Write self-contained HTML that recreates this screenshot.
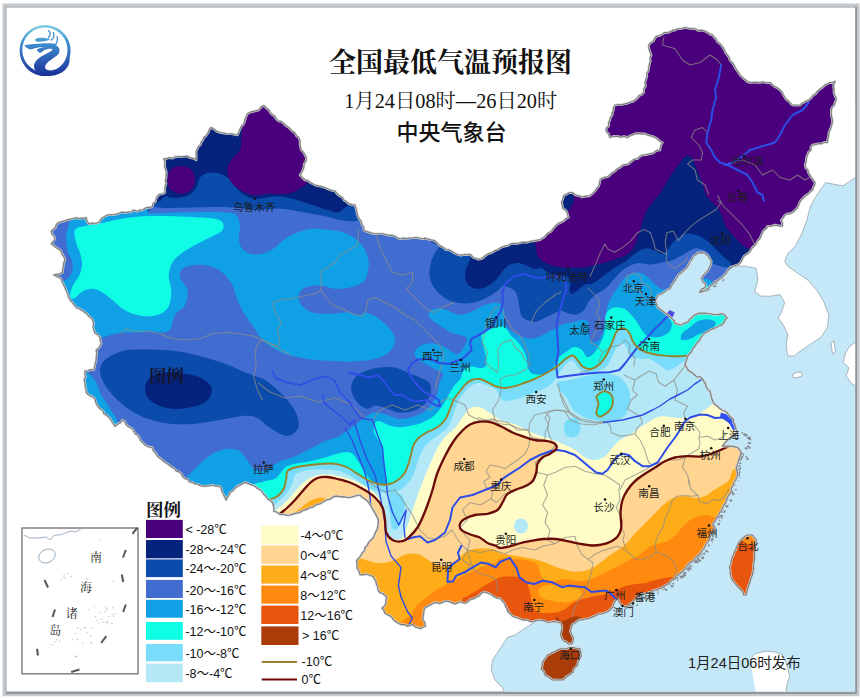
<!DOCTYPE html><html><head><meta charset="utf-8"><title>map</title>
<style>html,body{margin:0;padding:0;background:#fff}body{width:860px;height:698px;overflow:hidden;font-family:"Liberation Sans",sans-serif}svg{display:block}</style></head><body>
<svg width="860" height="698" viewBox="0 0 860 698">
<rect width="860" height="698" fill="#fff"/>
<path d="M2.5,3.5H859.5V696.2H2.5ZM5.5,6.5V694.2H857.2V6.5Z" fill="#c6cacd" fill-rule="evenodd"/>
<path d="M5.5,6.5H857.2V694.2H5.5ZM6.5,7.5V691.6H855.1V7.5Z" fill="#8f979d" fill-rule="evenodd"/>
<defs><clipPath id="frame"><rect x="6.5" y="7.5" width="848.6" height="684.1"/></clipPath>
<clipPath id="cn"><path d="M51.2,231.2 53.4,229.3 55.6,227.5 56.3,224.5 58.8,222.5 61.8,221.7 64.1,221 66.8,220.2 69.9,219.4 72.5,218.8 75.4,217.8 77.8,218.2 80.6,218.4 83.8,218.4 86.2,217.5 86.9,221 88.8,223.8 92.3,223 95.8,223.5 98.8,222.5 100.5,220 102.3,217.9 105,216.2 108.3,214.8 111.8,214.8 115,214.5 118.3,213.7 121.8,212.2 125,212.5 128.3,212.1 131,212 133.6,210.1 136.9,211.3 140,210 143,209.8 145,208.4 147.5,207.3 149.9,207.7 152.5,206.2 153.1,203.5 155.5,201.7 156.2,198.6 157.5,196.2 159.5,194.3 162.9,193.8 165,192.5 164.8,189.6 165.1,186.7 166.1,183.7 165.4,180.5 166.2,177.7 166.2,175 166.4,172.3 165.6,169.5 164.7,166.9 164.8,164.4 164.9,161.4 163.8,158.8 166.6,158.6 169.2,157.7 172.6,158.2 175,157 178,156.6 181.4,156.5 184.5,156.4 187.5,156.2 190.4,157.9 193.5,158.4 196.2,160 196.3,157.2 196.2,154.2 196.2,151.2 197.3,149 198.5,146.4 200.5,144.8 201.2,142.1 202.9,140.2 203.8,137.5 206.2,135.6 208.1,132.9 209.1,130 211.2,127.5 214.3,129.3 216.7,131.3 220,132.5 223,133 226,133.6 228.4,133.9 231.8,133.9 234.6,134.6 237.5,135 238.9,131.9 240.1,128.9 241.5,126.4 243.8,123.8 244.6,121.3 245.5,118.4 246.3,116.2 247.5,113.8 251,111.9 254.5,111.2 258.8,110 260.9,107 263.8,105.5 266.2,107.8 268.8,110 270.3,112.6 272.2,114.6 274.8,116.3 276.2,118.8 278.3,121 281,121.4 283.2,123 285,125 287.9,126.9 290.1,128.8 292.5,131.2 295.1,133 296.5,135.9 298.8,137.5 300,140.6 300,144 300.5,146.9 301.2,150 303.4,152.2 305,155 306.2,157.5 306.1,160.9 304.1,163.9 303.8,167.5 302.6,170.5 301.6,172.6 300,175 302.4,177.8 305,180 307.9,180.6 309.9,182.4 312.5,183.7 315,185 318.3,185.9 321.7,186.6 325,187.5 327.3,188.7 329.8,189.8 332.5,190.6 335,191.2 337,193.7 339.5,195.7 342.5,197.5 344,200.2 346.5,201.8 348.8,203.8 352.1,204.6 355,205 355.9,208.3 356.7,211.7 357.5,215 358.7,218.2 361.2,221.2 361.8,224.4 363.7,227.2 363.8,230 366.7,231.7 370,232.5 373.1,233.5 376.7,233.8 380,233.8 383.3,233.8 385.9,234.7 388.7,235.2 391.8,235.3 395,236.2 397.6,237.9 400,239 403.2,238 406.5,238.7 409.8,238 412.8,237.9 416.4,237.5 419.6,238 422.3,239 425.1,238.2 427.8,239 431,239.9 434.3,240.5 437,242.8 439.2,245.4 442.9,247.1 445.8,249.5 448.9,249.8 451.5,251 454,252.8 456.5,254 458.9,255 462,255.2 464.5,254.5 467.4,254.7 470.3,254.4 473.5,257.7 478.4,259.3 482.1,258.5 485,256 488.1,253.8 491.5,252.8 494.5,250.9 498,249.5 501.1,247.4 504.6,246.2 508.1,245.6 511,243.8 514,243.4 516.6,243.5 519.3,243 521.8,242.3 524.4,242.3 527.5,242.2 530.4,241.3 533.1,241.1 535.6,240.5 540,239.7 544,237.3 546.2,235 548.1,233 551,231.5 553.4,228.3 555.7,225.7 558.1,223.6 560.8,222.3 563.8,221 566,218.6 568.5,217.5 567.3,213 565.6,210.2 562.7,208.2 562.3,205.1 561.5,202.4 562.8,199.1 563.8,195.5 566.7,194.1 569.7,192.5 572.7,192.8 575.5,195 579.3,195.9 582.4,197.2 585.8,196.2 589.4,196 592.7,193.5 595.2,190.8 596.7,188.5 598.7,186.2 599.5,183.4 600,180 601.9,178.3 604.7,177.4 607.8,176.8 610,175 611.9,172.9 615.3,171 617,169 620,167.5 622.1,165.6 624.6,164.5 627.6,164.4 630,162.5 632.4,160.6 634.6,159.1 637.9,158.5 640,156.2 642.9,155 646.7,154.5 650,153.8 652.7,153.3 654.9,151.8 657.1,150.4 660,150 660.4,147.5 661.2,144.7 662.5,142.5 659.5,141.1 657.4,138.8 655,137.5 652.3,136.1 649.8,135.7 647.3,135 645,133.8 641.9,133.8 638.4,133.4 635,133.8 632.4,134.9 630,135.8 627.5,137.5 624.2,136.4 620.6,137.1 617.5,136.2 613.6,136.3 610,137.5 608.5,133.9 606.2,131.2 606.3,128.1 608.9,125.8 608.6,122.6 610,120 610.3,117.5 612.3,114.9 612.3,112.6 613.5,110.2 613.5,107.6 615,105 618.3,104.5 622,104.6 625,103.8 627.8,103.3 630.1,102.1 632.5,101.7 635,100 637.4,98 639,95.7 641.6,94.6 643.8,92.5 643.7,89 645.5,86.1 645,82.5 645.9,79.3 647,76.3 646.6,73.5 648.4,70.8 648.8,67.5 649.3,64.5 650.4,61.2 649.9,58 651.2,55 649.9,51.7 648.8,48.4 648.8,45 650.7,42.7 653.2,41.3 654.7,38.6 656.2,36.2 659.1,35.8 661.9,34.5 664.2,32.7 667.5,32.5 670.2,31.8 672.7,30.2 674.9,30.2 677.5,28.8 681.6,28.6 685,27.5 688.5,28.4 691.5,28.5 695,28.8 698,30.5 701.6,30.2 705,31.2 707.4,32.4 710,34.3 712.5,35 714.3,37.2 716.3,39.4 717.5,41.9 720,43.8 721.9,46.1 723.5,48.2 724.6,50.3 725.8,53.2 727.5,55 729.1,57.5 729.9,60.2 732.1,62.4 733.9,64.7 735,67.5 736.6,69.9 738.7,72.7 740.1,75.2 742.5,77.5 745,79.5 747.3,81.5 750,82.5 753.5,82.3 756.4,82.3 760,82.5 763.1,81.8 766.4,82.8 770,82.5 772.5,84.8 775.1,86.8 777.7,88 780,90 781.9,92 783.5,95 785,97.5 786.4,99.6 788.6,101.1 790.4,103.3 792.5,105 796.5,105.3 800,105 802.8,102.9 805.5,101.4 808.8,100 811,97.9 812.9,95.5 815.7,93.7 817.5,91.2 819.7,89.3 822.2,87.5 824.9,85.1 827.5,83.8 829.6,82.6 832.8,82.7 835,81.2 833.8,83.9 833.6,87 834,89.5 833.8,92.5 834.6,95 835.9,97.6 836.2,100 835,102.3 834.3,105.3 832.2,107.4 831.2,110 831.2,113.4 831.6,116.8 832.5,120 832.1,123.7 831.2,126.9 830,130 828.7,133.3 828.6,136 827.7,139.6 827.5,142.5 824.2,142.2 821.5,143.7 818.2,143.6 815.3,144.5 812.5,145 810.9,147.1 810.8,150.6 808.4,152.3 807.5,155 806.3,157.9 806.2,161.6 805,165 805.8,167.8 808,170.1 808.2,172.4 810,175 811.4,177.5 813.4,180.3 815,182.5 814.6,185 813.4,187.3 812.5,190 810.1,192 807.5,194.5 805.1,196 803.4,197.8 801.2,200 799.7,202.4 798.7,205 797.5,207.5 795.1,210.3 792.5,212.5 790.1,213.6 787.6,213.8 785,215 783.1,217.9 781.2,220 782.4,223.1 782.5,226.2 778.7,225.8 775,225 771.3,226.1 767.5,226.2 766.2,228.6 763.9,230.3 762.5,232.5 761.2,235.6 759.9,238.4 757.5,241.2 756.3,243.7 754.6,245.7 752.5,247.5 751,249.6 749.7,251.9 747.5,253.8 744.4,255.7 742.5,258.8 741.5,261.3 739.5,263.6 737.5,265 735.2,265.6 732.2,266.7 730,267.5 731.6,267.3 728,270.2 725.8,273.7 722.3,277.2 720,278.7 717.7,280.7 714.7,281.6 713,284.2 710.3,285.8 708.4,288.3 706.2,290 703.7,291.2 699.7,292.3 701.4,289.4 704.9,287.7 706,284.2 703,281.9 701.4,278.4 703.7,274.9 707.2,271.4 708.6,269.3 710,266.7 710.9,264.1 711.3,261 709.4,258.5 708.4,256.3 706.3,254.5 703.7,252.8 700.6,252.7 697.9,252.8 696.1,254.7 693.3,256.3 692,259.2 689.8,262 688.8,264.5 687.4,266.7 685.2,269.4 682.8,271.4 680.6,273.2 678.3,274.7 677,277.2 675.5,279.8 673.9,281.8 672.3,284.2 670,288.8 667.5,289.7 665,291.5 661.9,293.6 658.6,294.8 656.3,297.9 655.4,301.3 656.3,303.6 657,306.3 659.1,308.4 662,310.4 664.5,312.7 666.8,314.5 668.4,315.3 671.7,318.6 674.2,320.6 675,323.5 678.3,324.3 681.5,325 684.6,323.1 688,322 689.3,319.5 691.5,318.2 693,316 696.3,314.2 699.5,313 702.2,313.6 704.7,313.1 707.6,313.7 710.2,313.8 713.3,314.5 715.8,314.5 718.3,314.6 721.3,313.7 724,314.5 727.3,317.8 725.1,319.8 724,322.7 721.7,324.9 719,326 716.5,327.3 714.2,328.4 710.5,329.6 707.6,331.7 704.7,333 702.7,335 700.8,337.6 699.5,340.7 696.9,342.7 695.4,345.6 692.9,348.5 691.3,352 688,355.4 686.4,360.3 684.8,365.2 686.8,367.3 688,370 690.4,371.7 692.6,373 694.6,375 696.9,376.9 700,376.9 702.7,379 703.9,381.6 705.5,383.5 706,386.4 707.4,389.1 710,391.3 710.9,394.6 711.5,397.9 712.9,401.2 714.2,404 717.5,406.2 719.5,408.3 722,410 725,411.2 727.4,413 729.1,415.7 731.2,417.5 733.4,419.5 733.4,422.7 735,425 735.5,427.6 736.3,430.2 737.5,432.5 735.5,433.8 733,436 731.2,437.5 729.1,438.6 727,440.6 725,442.5 722.5,446.2 726.5,446 730,446.2 734,446.6 737.5,447.5 739.6,449.7 741.2,452.5 740.4,455.2 739.6,457.5 738.8,460 737.9,462.7 737.3,465.2 736.2,467.5 737,471 737.5,475 736.8,477.4 735.3,480.5 733.8,482.5 733.5,485.2 731.6,487.4 731.2,490 730.8,493 728.8,495 727.5,497.5 726.2,499.9 725.9,503.1 723.8,505 722.7,507.6 721.7,510 720,512.5 718.2,515.8 716.2,518.8 714.7,521.7 712.5,524.5 715,527.5 714.5,530.5 712,532.3 711.2,535 710,537.2 709,540.1 707.5,542.5 705.3,545.5 703.8,548.8 702,550.7 700.7,553.1 698.8,555 696,557.1 693.8,560 691.9,561.9 689.6,562.9 687.5,565 686,567 684.7,569.4 682.5,571.2 680.6,573 678.6,574.7 676.2,576.2 674.7,579.1 671.6,580.3 670,582.5 667,584.6 663.8,586.2 661.6,588.2 658.9,588.7 656.2,590 653.6,590.3 651.4,592.1 648.8,592.5 645,593.8 642.2,594 640,595.4 637.3,596.6 635.6,598.6 633.5,601.4 630.7,603.5 628.7,605.6 625.8,606.8 621,605 619.3,602.1 617.6,598.6 614.4,602 612.7,606.8 610.6,609.2 607.8,611.7 604.3,612.9 601.3,614 598.4,614 595.7,615.7 593,616.6 590.4,617.9 588,618.7 585,619 582.1,620 579.2,619.8 576.8,621.5 574.8,623.1 572,624.8 571.2,628.2 570.3,631.3 571.7,634.7 573.5,637.8 573.1,640.9 572,644 568.6,644 566.2,641.9 563.7,641 561.7,638.1 560.5,634.6 561.2,631.3 562,628 561.8,625.3 560.5,623 557.4,622 554,621.5 550.5,622 547.4,622.3 544.7,620.9 542,620.4 539.2,620 536.1,620.6 532.7,621.5 530.1,621.6 527.5,620 523.4,620.1 520,618.8 517.5,618 514.8,617 512.5,616.2 510.2,613.7 507.5,611.2 507.2,608.8 505.4,606.3 505,603.8 502.4,601.2 500,598.4 497.1,598.1 494,596.8 491.8,594.8 489,593.5 484.2,591.9 481,593.5 479.3,596 476.7,596.8 474.4,598.4 469.5,600 467.3,602.3 464.6,603.3 459.7,601.7 457.2,603.1 454.8,604 452.4,602.9 449.9,601.7 445,600.9 442.4,602.6 440,603.3 435.2,602.5 432.5,603.5 430.3,605 427.8,606.3 425.4,607.4 424,610 423.7,613 423,616.6 423,619.7 424.8,622.6 425.4,626.2 422.7,627.2 420.5,628.7 415.6,627 412.3,624.6 407.4,626.2 404.4,624.5 400.8,624.6 397.6,622.8 395,621.3 392.9,619 391,616.4 387.3,614.8 384.5,613 384.1,610.5 382,608.2 384.6,605.9 386,603.3 385.9,599.7 387,596.8 384.8,595.5 382.9,593.5 379.9,592.7 378,590.3 377.8,587 376.3,583.7 375.8,580.9 374.1,578.5 373,576.4 369.6,575.3 366.5,574 363.2,574.9 360,574.7 359.1,571.3 357,568 357.2,564.4 356.5,561 358,558.9 360,556.8 362.5,552.7 364.8,550.4 365,547.5 367.4,545.3 368.6,542.5 370.6,540.3 373,538 374.3,535.5 375.5,532.2 377,530 377.8,526.8 378.2,523.4 378.5,520 377.3,517.4 376.1,515.1 375,513 372.5,508.8 371,506 369.4,503.6 367.5,501.2 365.1,499.2 362.2,497.3 360,495 356.7,495.5 353.4,496.6 350,497.5 347.1,497.5 343.6,496.6 340.4,496.8 337.5,496.2 334.6,496.4 332.5,497.3 330,499.3 327.5,499.5 324.9,501 322.3,502.5 320,503.8 317.4,504.4 315.1,505.3 312.7,507.3 310,507.5 307.7,508.9 305,509.9 302.3,510.8 300,512.5 296.4,513.1 293,514.1 290,515 286.6,515.3 283.5,514.3 280,514.5 277.2,512.3 273.8,511.2 274,508.3 273.4,505.5 272.5,502.5 270.2,500.6 267.5,498.8 266,496.4 264.4,494.8 262.5,492.5 260.5,489.8 257.7,488.7 255,486.2 252.5,485.1 250.1,484.4 247.8,483.2 245,482.5 242.5,483.8 239.7,485.2 237.5,486.2 235.2,488.2 233.1,490.6 230,492.5 229.2,495 227.3,497.6 226.2,500 224.9,497.4 223.8,495 222.4,492.3 221.5,490.3 221.2,487.5 218.4,485.9 215.4,486.1 212.5,485 209.2,485.8 206.1,486.1 202.5,486.2 200.1,485.4 197.6,484.1 195,484 192.5,482.5 189.5,481.8 187.8,479.3 184.5,478.4 182.5,476.2 181.3,473.7 179.3,471.9 176.4,471.1 175,468.8 172.3,467.5 169.9,465.7 167.5,463.8 164.7,462 162.6,460.4 160.1,458.2 157.5,456.2 155.8,453.1 153.3,450.7 152.5,447.5 149.9,447.3 147.3,446.2 145,445 143,442.8 140.5,440.6 139.3,437.6 137.5,435 135.4,433.9 133.7,431 132.3,428.8 130,427.5 127.6,425.9 125.9,424.3 124.8,421.6 122.5,420 120.6,422.7 117.7,424 115,426.2 112.5,422.5 110.8,419.8 108.9,417.3 106.2,415 103.8,413.7 103,410.5 100.4,409.3 98.8,407.5 97.2,405.1 95.9,402.9 95.3,400.2 93.8,397.5 91.1,396.2 88.6,394.7 86.2,392.5 86,389.3 85.1,385.7 85,382.5 84.1,379.9 85.6,376.8 84.8,374 85,371.2 88.1,370.6 90.8,369.6 93.8,370 94.7,366.6 95.2,363.3 96.2,360 96.3,356.7 96.8,353.5 96.2,350 98.4,348.4 100,346 101.2,343.8 100.3,340.4 100,337.5 98,334.7 95,333.1 93.8,330 93.1,326.8 93.7,323.1 92.5,320 91,317.7 88.8,316.3 87.1,314 85,312.5 82.2,310.5 79.2,308.7 76.2,307.5 74.4,305.2 72.5,302.6 70.1,300 68.8,297.5 68,295.2 67.3,292.7 65.9,290 65,287.5 63.7,284.7 62.2,281.9 61.2,278.8 58.9,277.3 56.1,275.9 53.8,275 56.7,274.3 59.9,273.9 62.5,272.5 62.7,269.5 63.4,266.3 63.7,263.1 65,260 64.2,257.2 62.2,254.3 61.2,251.2 58.7,249.1 56.3,247.7 53.8,245.6 51.2,243.8 53.2,241.3 55,238.8 53.9,235.9 51.9,234.1Z"/><path d="M747.5,535 752.5,535 754.3,537.5 756.2,540 756.2,543.3 755.8,546.4 755,550 754.5,552.9 754.7,556 754.5,559.7 753.8,562.5 753.3,565.9 753.8,568.7 752.9,571.8 752.5,575 751.1,577.4 750.4,580 749.9,582.5 748.8,585 747.7,588.2 747,591.5 746.2,595 743.8,595 742.9,592.2 741.2,590 738.8,587.7 736.2,585 734.6,582.7 732.5,580.4 731.2,577.5 730.3,573.9 730.4,570.8 729.5,567.5 730.6,564.4 731.3,560.8 732,557.5 733.6,555.1 734,552.7 735.6,550.3 736.2,547.5 737.6,545 739.1,542 741.2,540 742.8,538.2 745,536.3Z"/><path d="M542.5,662.5 544.1,659.8 545.8,657.7 547.5,655 549.9,654.1 552.3,652.5 555.1,651.6 557.5,650 560.4,648.8 564,648.8 566.9,648.5 570,647.5 573.3,647.6 576.6,648.3 580,648.8 580.7,652.3 581.2,656.2 579.5,659.2 578.1,661.8 577.5,665 575.6,667.2 573.8,669.2 573.1,672.1 571.2,673.8 568.9,675.3 566.5,676.6 564.9,678.4 562.5,680 559.2,679.9 555.6,680 552.5,680 550,678 547.3,676.4 545,675 543.8,671.4 541.2,668.8 542.3,665.5Z"/></clipPath></defs>
<g clip-path="url(#frame)">
<path d="M620,240 856,160 858,695 505,695 505,694.5 502.5,687.5 495,680 491.2,670 492.5,660 497.5,652.5 502.5,645 507.5,637.5 515,635 522.5,630 530,625 536,621 560,600 650,560 660,400 650,300Z" fill="#c4e8f8"/>
<path d="M731,266.2 745.2,266.2 756.3,268.4 757.9,280.4 754.7,291.5 761,296.2 770.5,296.2 780,294.6 784.7,302.5 781.5,312 778.4,318.3 783.1,324.6 787.8,334 786.2,345 787.8,356 794.1,356 802,349.8 811.5,343.5 821,337.2 827.3,327.7 828.8,315 824.1,302.5 817.8,291.5 808.3,280.4 798.9,274 787.8,266.2 784.7,261.5 787.8,253.6 795.7,245.7 802,233 806.8,220.5 809.9,207.9 814.7,198.4 821,188.9 825.7,182.6 833.6,184.2 843,185.8 852.5,179.5 857.2,176.3 860,174.7 860,100 700,100 700,250Z" fill="#fff"/>
<path d="M750,660 755,653.8 765,651.2 775,652 782,654.5 785.8,662.2 788.4,671 789.6,676.3 787,684 785.8,693 756,693 752.5,674.5Z" fill="#fff"/>
<path d="M846,352 850,346 856,342 860,342 860,388 852,384 846,376 849,368 843,362Z" fill="#fff"/>
<path d="M831,343 834,341 835.5,352 832.5,354Z" fill="#fff"/>
<ellipse cx="797.3" cy="375" rx="5" ry="2.6" fill="#fff" transform="rotate(-12 797.3 375)"/>
<g fill="none" stroke="#8f99a3" stroke-width="0.7" stroke-linejoin="round">
<path d="M731,266.2 745.2,266.2 756.3,268.4 757.9,280.4 754.7,291.5 761,296.2 770.5,296.2 780,294.6 784.7,302.5 781.5,312 778.4,318.3 783.1,324.6 787.8,334 786.2,345 787.8,356 794.1,356 802,349.8 811.5,343.5 821,337.2 827.3,327.7 828.8,315 824.1,302.5 817.8,291.5 808.3,280.4 798.9,274 787.8,266.2 784.7,261.5 787.8,253.6 795.7,245.7 802,233 806.8,220.5 809.9,207.9 814.7,198.4 821,188.9 825.7,182.6 833.6,184.2 843,185.8 852.5,179.5 857.2,176.3 860,174.7"/>
<path d="M536.2,621.2 530,625 522.5,630 515,635 507.5,637.5 502.5,645 497.5,652.5 492.5,660 491.2,670 495,680 502.5,687.5 505,694.5"/>
<path d="M750,660 755,653.8 765,651.2 775,652 782,654.5 785.8,662.2 788.4,671 789.6,676.3 787,684 785.8,693"/>
<path d="M846,352 850,346 856,342 860,342M860,388 852,384 846,376 849,368 843,362 846,352M831,343 834,341 835.5,352 832.5,354Z"/>
<ellipse cx="797.3" cy="375" rx="5" ry="2.6" transform="rotate(-12 797.3 375)"/>
</g>
<g clip-path="url(#cn)">
<rect x="40" y="15" width="810" height="680" fill="#416cd0"/>
<path d="M153.8,207C157.9,207.2 159,207.9 165,208C171,208.1 181.7,207.7 190,207.5C198.3,207.3 206.7,206.9 215,207C223.3,207.1 233.3,207.5 240,208C246.7,208.5 248.3,209.9 255,210C261.7,210.1 271.7,208.3 280,208.8C288.3,209.2 297.5,211.2 305,212.5C312.5,213.8 319.2,215 325,216.2C330.8,217.5 335,219.2 340,220C345,220.8 351.3,221.6 355,221.2C358.7,220.9 359.2,219.9 362,218C364.8,216.1 370.3,231.3 372,210C373.7,188.7 410.7,110 372,90C333.3,70 178.7,70.5 140,90C101.3,109.5 137.7,187.5 140,207C142.3,226.5 149.6,206.8 153.8,207Z" fill="#0a4bab"/>
<path d="M438.4,247C437.6,250.5 436.2,250.2 435,252.8C433.8,255.4 431.9,259.1 431,262.6C430.1,266.1 429.2,270.5 429.4,274C429.5,277.5 430.5,280.8 431.9,283.8C433.3,286.8 435.3,289.6 437.6,292C439.9,294.4 442.8,296.7 445.8,298.5C448.8,300.3 452.1,301.8 455.6,302.6C459.1,303.4 463.5,303.5 467,303.4C470.5,303.3 473.5,302.8 476.8,301.8C480.1,300.9 483.6,299.2 486.6,297.7C489.6,296.2 492.6,294.3 494.8,292.8C497,291.3 498.3,289.9 499.7,288.7C501.1,287.5 501.6,285.8 503,285.5C504.4,285.2 505.9,286.2 507.8,287C509.7,287.8 512.8,288.8 514.4,290.4C516,292 516.8,294.2 517.6,296.9C518.4,299.6 518.6,303.4 519.3,306.7C520,310 520.3,314.3 521.7,316.5C523.1,318.7 525.5,319.1 527.7,320C529.9,320.9 532.2,322.3 535,322C537.8,321.7 541.3,319.4 544.4,318C547.5,316.6 550.9,314.7 553.7,313.5C556.5,312.3 558.5,310.7 561,310.7C563.5,310.7 566.1,312.9 568.6,313.5C571.1,314.1 573.5,314.9 576,314.4C578.5,313.9 581.3,312.9 583.5,310.7C585.7,308.5 586.8,303.8 589,301C591.2,298.2 593.7,296.2 596.5,294C599.3,291.8 603,290.6 606,288C609,285.4 611.7,281.3 614.5,278.4C617.3,275.4 620,272.5 622.7,270.3C625.4,268.1 628.1,266.6 630.8,265.4C633.5,264.2 636,263.1 639,263C642,262.9 645.8,264.4 648.8,264.5C651.8,264.6 654.5,264.1 657,263.7C659.5,263.3 661,262.5 663.5,262C666,261.5 668.7,261.6 671.7,260.5C674.7,259.4 678.5,257.2 681.5,255.6C684.5,254 687.2,251.9 689.7,250.7C692.2,249.5 694,248.3 696.2,248.2C698.4,248 700.8,249.1 702.7,249.8C704.6,250.5 706.2,251.1 707.6,252.3C709,253.5 710.3,255.5 710.9,257.2C711.5,258.9 710.1,261.2 711,262.5C711.9,263.8 714.6,264.3 716.5,265C718.4,265.7 720.4,266.3 722.3,266.7C724.2,267.1 726,267.2 728,267.3C730,267.4 727,267.9 734,267C741,266.1 750.7,273.2 770,262C789.3,250.8 836.7,241.2 850,200C863.3,158.8 898.3,45.8 850,15C801.7,-15.8 608.3,-12.5 560,15C511.7,42.5 580,143.8 560,180C540,216.2 460.3,220.8 440,232C419.7,243.2 439.2,243.5 438.4,247Z" fill="#0a4bab"/>
<path d="M100,372.5C99.6,368.8 100.4,365.4 102.5,362.5C104.6,359.6 108.3,357.1 112.5,355C116.7,352.9 122.1,350.9 127.5,350C132.9,349.1 138.8,349.5 145,349.5C151.2,349.5 158.3,349.5 165,350C171.7,350.5 178.3,351.2 185,352.5C191.7,353.8 198.3,355.6 205,357.5C211.7,359.4 218.8,361.5 225,363.8C231.2,366 237.5,369.2 242.5,371.2C247.5,373.3 251.2,374.5 255,376C258.8,377.5 261.2,377.7 265,380C268.8,382.3 273.8,386.7 277.5,390C281.2,393.3 284.6,396.5 287.5,400C290.4,403.5 293.1,407.2 295,411C296.9,414.8 298.5,419.2 298.8,422.5C299,425.8 298.1,428.8 296.2,431C294.4,433.2 290.6,435.8 287.5,436C284.4,436.2 280.8,434.2 277.5,432.5C274.2,430.8 271.2,428.6 267.5,426C263.8,423.4 259.6,418.6 255,417C250.4,415.4 245.8,415.8 240,416.2C234.2,416.8 227.5,418.8 220,420C212.5,421.2 203.3,423.1 195,423.8C186.7,424.4 177.9,424.6 170,423.8C162.1,422.9 154.2,421 147.5,418.8C140.8,416.5 135.4,413.5 130,410C124.6,406.5 119.2,401.7 115,397.5C110.8,393.3 107.5,389.2 105,385C102.5,380.8 100.4,376.2 100,372.5Z" fill="#0a4bab"/>
<path d="M351.2,387.5C351.5,384.2 352.7,380.2 355,377.5C357.3,374.8 360.8,372.9 365,371.2C369.2,369.6 375,368.1 380,367.5C385,366.9 390.4,366.7 395,367.5C399.6,368.3 403.3,370.8 407.5,372.5C411.7,374.2 416.4,375.8 420,377.5C423.6,379.2 427.2,380.2 429,382.5C430.8,384.8 431.2,388.1 431,391C430.8,393.9 429.3,397.3 427.6,400C425.9,402.7 423.8,405.1 421,407C418.2,408.9 414.7,410.6 411,411.5C407.3,412.4 402.8,412.9 399,412.5C395.2,412.1 391.8,410.2 388,409C384.2,407.8 379.4,405.5 376,405.5C372.6,405.5 370.2,408.8 367.5,408.8C364.8,408.7 362.3,406.9 360,405C357.7,403.1 355.2,400.4 353.8,397.5C352.3,394.6 351,390.8 351.2,387.5Z" fill="#0a4bab"/>
<path d="M166,196C169.3,196.2 167.7,197.2 170,197.5C172.3,197.8 176.7,198 180,197.5C183.3,197 187.3,196.2 190,194.5C192.7,192.8 194.6,190.3 196.2,187.5C197.9,184.7 198.1,179.9 200,177.5C201.9,175.1 204.6,173.8 207.5,173C210.4,172.2 214.2,172.2 217.5,173C220.8,173.8 224.6,175.3 227.5,177.5C230.4,179.7 232.5,183.5 235,186.2C237.5,189 239.2,191.7 242.5,193.8C245.8,195.8 249.2,198.3 255,198.8C260.8,199.2 271.2,196.2 277.5,196.2C283.8,196.2 286.7,197.3 292.5,198.8C298.3,200.2 306.7,203.1 312.5,205C318.3,206.9 323.3,208.8 327.5,210C331.7,211.2 334.6,212.9 337.5,212.5C340.4,212.1 342.6,209.1 345,207.5C347.4,205.9 349.2,205.1 352,203C354.8,200.9 360.3,213.8 362,195C363.7,176.2 397.3,107.5 362,90C326.7,72.5 185.3,72.3 150,90C114.7,107.7 147.3,178.3 150,196C152.7,213.7 162.7,195.8 166,196Z" fill="#05237d"/>
<path d="M471,255.2C470.4,259 469.5,260 468.6,262.6C467.7,265.2 465.9,268.1 465.4,270.8C464.9,273.5 464.9,276.6 465.4,279C465.9,281.4 467,283.9 468.6,285.5C470.2,287.1 472.8,288.3 475.2,288.7C477.6,289.1 480.6,288.7 483.3,287.9C486,287.1 489.1,285.6 491.5,283.8C493.9,282 496.1,279.5 498,277.3C499.9,275.1 501.4,272.7 503,270.8C504.6,268.9 505.9,267 507.8,265.8C509.7,264.6 512.2,263.8 514.4,263.4C516.6,263 518.8,263 521,263.4C523.2,263.8 525.3,264.9 527.5,265.8C529.7,266.7 531.8,268.6 534,269C536.2,269.4 538.4,267.4 540.7,268C543,268.6 545.3,271.4 548,272.6C550.7,273.8 553.8,274.4 557,275C560.2,275.6 564.8,274.7 567,276C569.2,277.3 570.1,280.7 570.5,283C570.9,285.3 569.2,288.2 569.5,290C569.8,291.8 570.6,294 572,294C573.4,294 575.8,291.6 578,290C580.2,288.4 582.8,285.6 585,284.6C587.2,283.6 588.8,284.8 591,284C593.2,283.2 595.5,281.8 598,280C600.5,278.2 603.3,275.7 606.3,273.5C609.3,271.3 612.7,269 616,267C619.3,265 623.2,263.2 626,261.3C628.8,259.4 630.3,257.4 632.5,255.6C634.7,253.8 636.5,251.9 639,250.7C641.5,249.5 644.5,248.2 647.2,248.2C649.9,248.2 652.9,249.7 655.4,250.7C657.9,251.7 660.1,254 662,254C663.9,254 665.2,252.4 666.8,250.7C668.4,249 669.8,246.2 671.7,244C673.6,241.8 675.8,239.3 678.2,237.6C680.7,235.8 683.4,233.9 686.4,233.5C689.4,233.1 692.9,233.9 696.2,235C699.5,236.1 703,237.9 706,240C709,242.1 711.8,245.1 714.2,247.4C716.7,249.7 718.8,252.1 720.7,254C722.6,255.9 724.1,257.5 725.6,258.8C727.1,260.1 728.3,260.6 730,262C731.7,263.4 729.3,267 736,267C742.7,267 751,273.2 770,262C789,250.8 836.7,241.2 850,200C863.3,158.8 898.3,45.8 850,15C801.7,-15.8 608.3,-12.5 560,15C511.7,42.5 574.7,142.5 560,180C545.3,217.5 486.8,227.5 472,240C457.2,252.5 471.6,251.4 471,255.2Z" fill="#05237d"/>
<path d="M145,387.5C145.4,384.2 146.7,380 150,377.5C153.3,375 159.2,373.1 165,372.5C170.8,371.9 179.2,372.9 185,373.8C190.8,374.6 195.8,375.6 200,377.5C204.2,379.4 208.1,382.3 210,385C211.9,387.7 212.1,390.8 211.2,393.8C210.4,396.7 208.5,400.2 205,402.5C201.5,404.8 195.4,406.5 190,407.5C184.6,408.5 177.9,409.2 172.5,408.8C167.1,408.3 161.7,406.9 157.5,405C153.3,403.1 149.6,400.4 147.5,397.5C145.4,394.6 144.6,390.8 145,387.5Z" fill="#05237d"/>
<path d="M242,127.5C242.2,134.6 241.6,133.8 241.2,137.5C240.9,141.2 241.5,146.5 240,150C238.5,153.5 234.6,155.8 232.5,158.8C230.4,161.7 228.1,164.4 227.5,167.5C226.9,170.6 227.5,174.4 228.8,177.5C230,180.6 232.3,183.8 235,186.2C237.7,188.8 241.7,191 245,192.5C248.3,194 250.8,195.3 255,195.5C259.2,195.7 264.6,194 270,193.8C275.4,193.5 282.9,194.4 287.5,193.8C292.1,193.1 294.6,191.5 297.5,190C300.4,188.5 302.9,186.5 305,185C307.1,183.5 307.2,182.7 310,181C312.8,179.3 320,189.3 322,175C324,160.7 335.7,108.3 322,95C308.3,81.7 253.3,89.6 240,95C226.7,100.4 241.8,120.4 242,127.5Z" fill="#4a007d"/>
<path d="M167.5,180C167.5,177.4 167.9,174.1 169,172C170.1,169.9 172,168.5 174,167.5C176,166.5 178.7,166 181,166C183.3,166 186,166.5 188,167.5C190,168.5 191.8,169.9 193,172C194.2,174.1 195,177.4 195,180C195,182.6 194.2,185.5 193,187.5C191.8,189.5 190,191 188,192C186,193 183.3,193.8 181,193.8C178.7,193.8 176,193 174,192C172,191 170.1,189.5 169,187.5C167.9,185.5 167.5,182.6 167.5,180Z" fill="#4a007d"/>
<path d="M572.5,191C572.2,193.3 574.2,197.3 574,200C573.8,202.7 572.3,204.8 571,207C569.7,209.2 568.2,211.8 566,213C563.8,214.2 561,212.2 558,214C555,215.8 551.3,221 548,224C544.7,227 540.8,229.5 538,232C535.2,234.5 531.5,237.2 531,239C530.5,240.8 533.9,241 534.8,243C535.7,245 535.7,248.5 536.4,251C537.1,253.5 537.5,256.1 538.9,258C540.3,259.9 542.3,261.1 545,262.5C547.7,263.9 550.8,265.4 555,266.2C559.2,267.1 565,267.3 570,267.5C575,267.7 580.8,267.9 585,267.5C589.2,267.1 591.7,265.8 595,265C598.3,264.2 600.9,263.7 605,262.5C609.1,261.3 615.6,259.4 619.4,258C623.2,256.6 625.3,255.8 627.6,254C629.9,252.2 631.7,250 633.3,247.4C634.9,244.8 636.2,241.7 637.4,238.4C638.6,235.1 639.6,231.3 640.7,227.8C641.8,224.3 642.7,220.5 643.9,217.2C645.1,213.9 646.2,211.1 648,208.2C649.8,205.3 652.3,202.7 654.5,200C656.7,197.3 658.8,195.3 661,192C663.2,188.7 665.5,184 668,180C670.5,176 673,172 676,168C679,164 683.3,157.7 686,156C688.7,154.3 690.2,155.7 692,158C693.8,160.3 695.3,166 697,170C698.7,174 700.5,177.8 702,182C703.5,186.2 704.2,191.6 706,195C707.8,198.4 710.5,200.3 712.5,202.5C714.5,204.7 716.4,205.8 718,208C719.6,210.2 720.7,213 722,216C723.3,219 724.1,223.2 725.6,226C727.1,228.8 729,230.7 731,233C733,235.3 735.4,237.8 737.5,240C739.6,242.2 741.2,244.8 743.8,246.2C746.3,247.8 748.6,249.2 753,249C757.4,248.8 753.8,253.2 770,245C786.2,236.8 836.7,238.3 850,200C863.3,161.7 893.3,45.8 850,15C806.7,-15.8 633.3,-2.5 590,15C546.7,32.5 592.3,91.5 590,120C587.7,148.5 578.9,174.2 576,186C573.1,197.8 572.8,188.7 572.5,191Z" fill="#4a007d"/>
<path d="M148,208.5C148.7,210.7 145.5,212.3 150,213C154.5,213.7 166.7,212.7 175,212.5C183.3,212.3 191.7,212 200,212C208.3,212 219,212 225,212.5C231,213 233.5,212.9 236,215C238.5,217.1 239.5,221.2 240,225C240.5,228.8 238.5,233.8 238.8,237.5C239,241.2 239.4,244.8 241.2,247.5C243.1,250.2 246.5,252.7 250,253.8C253.5,254.8 258.3,254.8 262.5,253.8C266.7,252.7 271.2,250 275,247.5C278.8,245 281.2,241.2 285,238.8C288.8,236.2 292.9,234.2 297.5,232.5C302.1,230.8 307.1,229.2 312.5,228.8C317.9,228.3 324.6,229.3 330,230C335.4,230.7 340.5,231.3 345,233C349.5,234.7 353.7,237.2 357,240C360.3,242.8 363,246.2 365,250C367,253.8 368.4,258.3 368.8,262.5C369.1,266.7 368,271.7 367,275C366,278.3 365.3,280.4 362.5,282.5C359.7,284.6 354.6,286.5 350,287.5C345.4,288.5 340,289.1 335,288.8C330,288.4 325,285.7 320,285.5C315,285.3 308.5,285.9 305,287.5C301.5,289.1 299.4,292.1 298.8,295C298.1,297.9 299,302.1 301.2,305C303.5,307.9 307.7,311 312.5,312.5C317.3,314 324.2,313.8 330,313.8C335.8,313.8 342.5,312.3 347.5,312.5C352.5,312.7 357.1,315 360,315C362.9,315 362.5,312.3 365,312.5C367.5,312.7 371.7,314.4 375,316.2C378.3,318.1 382.1,321 385,323.8C387.9,326.5 390.8,329.6 392.5,332.5C394.2,335.4 395.2,338.3 395,341.2C394.8,344.2 393.3,347.5 391.2,350C389.2,352.5 386,354.6 382.5,356.2C379,357.9 374.6,359.2 370,360C365.4,360.8 360.4,361 355,361.2C349.6,361.5 343.8,361.5 337.5,361.2C331.2,361 323.8,360.6 317.5,360C311.2,359.4 305.4,358.5 300,357.5C294.6,356.5 289.6,355.4 285,353.8C280.4,352.1 276.2,349.8 272.5,347.5C268.8,345.2 265.4,343.1 262.5,340C259.6,336.9 257.9,333.2 255,329C252.1,324.8 247.9,319.8 245,315C242.1,310.2 239.6,305 237.5,300C235.4,295 235,289.6 232.5,285C230,280.4 226.2,275.6 222.5,272.5C218.8,269.4 214.6,267.5 210,266.2C205.4,265 199.6,264.6 195,265C190.4,265.4 185,266.7 182.5,268.8C180,270.8 179.2,274 180,277.5C180.8,281 186.7,285.4 187.5,290C188.3,294.6 187.1,300.8 185,305C182.9,309.2 177.5,310.8 175,315C172.5,319.2 172.5,327.1 170,330C167.5,332.9 163.3,332.3 160,332.5C156.7,332.7 153.3,331.2 150,331.2C146.7,331.2 143.8,332.3 140,332.5C136.2,332.7 131.7,332.3 127.5,332.5C123.3,332.7 119.6,332.9 115,333.8C110.4,334.6 104.5,337.8 100,337.5C95.5,337.2 94.7,338.2 88,332C81.3,325.8 65,308.2 60,300C55,291.8 57,286.3 58,283C59,279.7 63.7,281.8 66,280C68.3,278.2 70.9,274.9 72,272C73.1,269.1 73.2,266.2 72.5,262.5C71.8,258.8 68.5,254.6 67.5,250C66.5,245.4 66,239.2 66.2,235C66.5,230.8 67.7,228 68.8,225C69.8,222 67.3,221.5 72.5,217C77.7,212.5 87.8,200.8 100,198C112.2,195.2 138,198.2 146,200C154,201.8 147.3,206.3 148,208.5Z" fill="#10a0e6"/>
<path d="M88.8,373.8C91.8,375.8 94.4,379.4 96.2,382.5C98.1,385.6 98.3,389.2 100,392.5C101.7,395.8 104.2,399.2 106.2,402.5C108.3,405.8 110.6,409.2 112.5,412.5C114.4,415.8 117.9,419.2 117.5,422.5C117.1,425.8 116.6,435.4 110,432C103.4,428.6 83.3,412.3 78,402C72.7,391.7 76.2,374.7 78,370C79.8,365.3 85.7,371.7 88.8,373.8Z" fill="#10a0e6"/>
<path d="M186.2,478.8C187.9,475.7 187.9,476 190,473.8C192.1,471.5 195.8,467.7 198.8,465C201.7,462.3 204.4,459.8 207.5,457.5C210.6,455.2 213.8,452.7 217.5,451.2C221.2,449.8 226.2,448.8 230,448.8C233.8,448.8 237.3,449.6 240,451.2C242.7,452.9 244.2,456 246.2,458.8C248.3,461.5 249.8,465.4 252.5,467.5C255.2,469.6 259.6,471.2 262.5,471.2C265.4,471.2 267.1,469.2 270,467.5C272.9,465.8 276.2,462.9 280,461.2C283.8,459.6 288.3,459.2 292.5,457.5C296.7,455.8 300.8,453.3 305,451.2C309.2,449.2 313.8,446.9 317.5,445C321.2,443.1 324.2,441.3 327.5,440C330.8,438.7 334.6,438.3 337.5,437C340.4,435.7 342.1,434 345,432C347.9,430 351.7,427.4 355,425C358.3,422.6 361.7,419.6 365,417.5C368.3,415.4 370.8,412.8 375,412.5C379.2,412.2 385.8,414.9 390,416C394.2,417.1 396.2,418.9 400,419C403.8,419.1 409,417.9 413,416.7C417,415.5 420.8,414.1 424,411.8C427.2,409.5 430.3,405.9 432.5,402.8C434.7,399.7 436.3,396 437.4,393C438.5,390 438.4,387.1 439,384.8C439.6,382.5 440.3,380.8 441,379C441.7,377.2 444.3,375.8 443,374C441.7,372.2 436.5,370 433,368C429.5,366 425.1,364.2 422,362C418.9,359.8 415.3,357.3 414.5,355C413.7,352.7 415.4,350.2 417,348.4C418.6,346.6 421.5,345.1 424.3,344.3C427.1,343.5 430.7,343.1 434,343.5C437.3,343.9 441,345.4 444,346.8C447,348.2 449.7,350.5 452,351.7C454.3,352.9 456,354.8 458,354C460,353.2 462.5,349.5 464,347C465.5,344.5 467.3,340.9 467,339C466.7,337.1 464.5,336.4 462,335.4C459.5,334.4 455.3,334.4 452,333C448.7,331.6 445.6,329.3 442.3,327.2C439.1,325.1 434.8,322.8 432.5,320.6C430.2,318.4 428.1,315.9 428.4,314C428.6,312.1 431.4,309.8 434,309C436.6,308.2 440.4,308.2 444,309C447.6,309.8 452.1,312.9 455.4,313.8C458.6,314.7 460.2,315 463.5,314.4C466.8,313.8 471.4,311.6 475,310C478.6,308.4 481.5,306.2 484.8,305C488.1,303.8 491.7,302.7 494.6,302.7C497.5,302.7 500.4,303.4 502,305C503.6,306.6 503.9,309.3 504.4,312.5C504.9,315.7 504.1,321 505.2,324C506.3,327 508.9,328.7 511,330.5C513.1,332.3 515.2,333.6 518,335C520.8,336.4 524.2,338.3 527.7,338.6C531.2,338.9 535.3,338 539,336.7C542.7,335.4 546.9,332.6 550,331C553.1,329.4 554.9,328.6 557.4,327.4C559.9,326.2 562.2,324.6 565,323.7C567.8,322.8 571.2,322.6 574,322C576.8,321.4 579.3,320 581.6,320C583.9,320 586.8,319.8 588,322C589.2,324.2 588.5,329.8 589,333C589.5,336.2 589.4,340.1 591,341.4C592.6,342.6 596.2,342.6 598.4,340.5C600.6,338.4 602.7,333.4 604,329C605.3,324.6 605.3,318.5 606,314.4C606.7,310.3 606.9,307.9 608,304.6C609.1,301.3 611,298.1 612.9,294.8C614.8,291.5 617.2,288 619.4,285C621.6,282 623.6,278.9 626,276.8C628.4,274.8 631.3,273.2 634,272.7C636.7,272.1 639.8,272.6 642.3,273.5C644.8,274.4 646.6,276.5 648.8,278.4C651,280.3 653.2,283.2 655.4,285C657.6,286.8 659.8,288.5 662,289C664.2,289.5 666.4,289 668.4,288.2C670.4,287.4 670.4,283.7 674,284C677.6,284.3 678.2,287.3 690,290C701.8,292.7 731.7,293.3 745,300C758.3,306.7 765.8,271.7 770,330C774.2,388.3 815,589.7 770,650C725,710.3 578.3,705.3 500,692C421.7,678.7 353.3,603.3 300,570C246.7,536.7 199,507.2 180,492C161,476.8 184.6,481.8 186.2,478.8Z" fill="#10a0e6"/>
<path d="M703,279.5C705,277.7 706.3,278.6 708,279C709.7,279.4 711.7,281.2 713,282C714.3,282.8 716.2,282.7 716,284C715.8,285.3 714.7,288 712,290C709.3,292 702.7,296 700,296C697.3,296 695.5,292.8 696,290C696.5,287.2 701,281.3 703,279.5Z" fill="#10a0e6"/>
<path d="M75,230C76.5,227.2 80.8,227.1 85,226C89.2,224.9 95,224.5 100,223.5C105,222.5 110,221 115,220C120,219 124.2,218.2 130,217.5C135.8,216.8 142.5,216.2 150,216C157.5,215.8 166.7,216 175,216.2C183.3,216.5 193.3,217.1 200,217.5C206.7,217.9 211.2,217.9 215,218.8C218.8,219.6 221.2,220.6 222.5,222.5C223.8,224.4 224.2,227.7 222.5,230C220.8,232.3 216.7,234 212.5,236.2C208.3,238.5 202.5,241 197.5,243.8C192.5,246.5 186.7,249.4 182.5,252.5C178.3,255.6 174.8,258.8 172.5,262.5C170.2,266.2 169,270.4 168.8,275C168.5,279.6 171,285.4 171.2,290C171.5,294.6 170.9,299.2 170,302.5C169.1,305.8 168.1,307.9 166,310C163.9,312.1 161,314 157.5,315C154,316 149.2,316.5 145,316.2C140.8,316 136.2,315 132.5,313.8C128.8,312.5 125.8,311 122.5,308.8C119.2,306.5 115.8,302.7 112.5,300C109.2,297.3 105.8,294.4 102.5,292.5C99.2,290.6 95.8,289 92.5,288.8C89.2,288.5 85.5,289.7 82.5,291.2C79.5,292.8 76.6,297.3 74.6,298.3C72.6,299.3 71.1,298.2 70.5,297C69.9,295.8 70.5,293 71,291C71.5,289 72,287.4 73.3,284.8C74.6,282.2 77.6,279 79.1,275.7C80.6,272.4 81.8,268.7 82.1,265.2C82.3,261.7 81.6,258.5 80.6,254.7C79.6,250.9 77,246.7 76.1,242.6C75.2,238.5 73.5,232.8 75,230Z" fill="#0ffde5"/>
<path d="M250,487.5C251.8,484.8 252.5,484.8 255,483.8C257.5,482.7 261.7,482.1 265,481.2C268.3,480.4 272.5,480 275,478.8C277.5,477.5 278.3,475.6 280,473.8C281.7,471.9 282.5,469.2 285,467.5C287.5,465.8 290.8,464.8 295,463.8C299.2,462.7 305,462.3 310,461.2C315,460.2 320.4,458.8 325,457.5C329.6,456.2 333.8,454.7 337.5,453.8C341.2,452.8 344.3,451.8 347,452C349.7,452.2 351.4,452.6 353.8,455C356.1,457.4 359,462.7 361.2,466.2C363.5,469.8 365.6,473.8 367.5,476.2C369.4,478.8 370.4,480 372.5,481.2C374.6,482.5 377.7,483.6 380,484C382.3,484.4 385.4,486.1 386.2,483.8C387.1,481.4 385.4,474.4 385,470C384.6,465.6 384.4,461.7 383.8,457.5C383.1,453.3 382.7,448.8 381.2,445C379.8,441.2 376.2,437.9 375,435C373.8,432.1 373.2,429.8 373.8,427.5C374.2,425.2 375.3,421.3 378,421C380.7,420.7 386.4,424.6 390,425.6C393.6,426.7 396.3,427.3 399.8,427.3C403.3,427.3 407.4,426.4 411.2,425.6C415,424.8 418.9,424 422.7,422.4C426.5,420.8 430.7,418.5 434,415.8C437.3,413.1 440,409.3 442.3,406C444.6,402.7 446.1,399.5 448,396.2C449.9,392.9 451.6,389.3 453.7,386.4C455.8,383.5 458.8,381.4 460.3,379C461.9,376.6 461.9,373.8 463,372C464.1,370.2 465.6,368.9 467,368C468.4,367.1 469.3,366.4 471.7,366.4C474.1,366.4 479.1,368.3 481.5,368C483.9,367.7 485.7,367 486.4,364.8C487.1,362.6 486.2,358.3 485.6,355C485,351.7 483.7,348.3 483,345C482.3,341.7 481.2,337.8 481.5,335.4C481.8,333 482.6,331.7 484.8,330.5C487,329.3 491.3,328.6 494.6,328C497.9,327.4 501.7,325.8 504.4,327C507.1,328.2 508.6,332.6 511,335.4C513.4,338.1 516.6,340.2 519,343.5C521.4,346.8 524.1,350.9 525.6,355C527.1,359.1 526.8,364.8 528,368C529.2,371.2 530.2,373 533,374C535.8,375 541.8,374.7 545,374C548.2,373.3 549.9,372.5 552,370C554.1,367.5 554.9,362.1 557.4,359C559.9,355.9 563.9,353.6 566.7,351.6C569.5,349.6 571.7,347.3 574.2,347C576.7,346.7 579.4,348.1 581.6,349.8C583.8,351.5 585.2,356.3 587.2,357C589.2,357.7 591.5,355.7 593.3,354C595.1,352.3 596.6,349.8 598.2,347C599.8,344.2 601.8,340.9 603,337.4C604.2,333.9 605.1,329.6 605.5,326C605.9,322.4 604.8,318.7 605.5,316C606.2,313.3 607.9,311.1 609.6,309.6C611.4,308.1 613.5,307.3 616,307.2C618.5,307.1 621.8,307.6 624.3,308.8C626.8,310 628.6,312.2 630.8,314.5C633,316.8 635.5,320 637.4,322.7C639.3,325.4 640.7,328.6 642.3,330.8C643.9,333 645,334.6 647.2,335.7C649.4,336.8 652.7,337.4 655.4,337.4C658.1,337.4 661.1,336.8 663.5,335.7C665.9,334.6 668.6,332.7 670,330.8C671.4,328.9 671.7,326.2 671.7,324.3C671.7,322.4 670.8,321 670,319.4C669.2,317.8 665.3,316.9 667,314.5C668.7,312.1 667,307.4 680,305C693,302.6 730,295.8 745,300C760,304.2 765.8,271.7 770,330C774.2,388.3 815,589.7 770,650C725,710.3 578.3,705.3 500,692C421.7,678.7 342.7,602 300,570C257.3,538 252.3,513.8 244,500C235.7,486.2 248.2,490.2 250,487.5Z" fill="#0ffde5"/>
<path d="M680.7,337.4C681,336.2 681.5,334.1 683,332.5C684.5,330.9 687.5,329.4 689.7,327.6C691.9,325.8 693.8,323.3 696.2,321.9C698.7,320.5 701.7,319.7 704.4,319.4C707.1,319.1 710.7,319.5 712.6,320.2C714.5,320.9 715.8,322 715.8,323.5C715.8,325 714.2,327.7 712.6,329.2C711,330.7 708.2,331.7 706,332.5C703.8,333.3 701.7,333.2 699.5,334C697.3,334.8 695.2,336.4 693,337.4C690.8,338.4 688.3,339.4 686.4,339.8C684.5,340.2 682.5,340.2 681.5,339.8C680.5,339.4 680.5,338.6 680.7,337.4Z" fill="#10a0e6"/>
<path d="M699,288C700.2,286.5 702.8,286.2 704.5,286C706.2,285.8 707.9,285.8 709,286.5C710.1,287.2 711.8,288.6 711,290C710.2,291.4 706.3,294.2 704,295C701.7,295.8 697.8,296.2 697,295C696.2,293.8 697.8,289.5 699,288Z" fill="#0ffde5"/>
<path d="M268.8,500C271.3,497.4 275,498.1 277.5,496.2C280,494.4 282.3,491.7 283.8,488.8C285.2,485.8 285.6,481.7 286.2,478.8C286.9,475.8 286,473.1 287.5,471.2C289,469.4 291.2,468.5 295,467.5C298.8,466.5 305.4,465.6 310,465C314.6,464.4 318.3,464 322.5,463.8C326.7,463.5 330.8,463.1 335,463.8C339.2,464.4 343.8,465.8 347.5,467.5C351.2,469.2 354.2,471.7 357.5,473.8C360.8,475.8 364.2,478.3 367.5,480C370.8,481.7 374.2,483 377.5,483.8C380.8,484.5 384.3,485 387.5,484.5C390.7,484 393.6,482.9 396.5,481C399.4,479.1 402.5,476.5 404.7,473C406.9,469.5 408.2,464.3 409.6,460C411,455.7 411.5,450.6 412.9,447C414.3,443.4 415.4,441.2 417.8,438.7C420.2,436.2 424.3,433.9 427.6,432C430.9,430.1 434.4,429.5 437.4,427.3C440.4,425.1 443.4,422.3 445.6,419C447.8,415.7 449.1,410.9 450.5,407.7C451.9,404.4 452.3,401.9 453.7,399.5C455.1,397.1 456.7,395.4 458.6,393C460.5,390.6 462.8,387 465,384.8C467.2,382.6 469.2,381 471.7,380C474.2,379 477.3,378.6 480,379C482.7,379.4 485.3,381.2 488,382.4C490.7,383.6 493.3,385.5 496,386.4C498.7,387.3 501.4,388 504.4,388C507.4,388 510.7,387.2 514,386.4C517.3,385.6 520.5,384.3 524,383C527.5,381.7 531.1,380.5 535,378.8C538.9,377 543.8,374.6 547.5,372.5C551.2,370.4 554.6,368.2 557.5,366C560.4,363.8 562.5,361.2 565,359.5C567.5,357.8 570.4,355.4 572.5,355.5C574.6,355.6 575.8,358.2 577.5,360C579.2,361.8 580.4,365 582.5,366.5C584.6,368 587.7,368.9 590,369C592.3,369.1 594.3,368.2 596.5,366.8C598.7,365.4 601.1,362.8 603,360.3C604.9,357.8 606.4,355.3 608,352C609.6,348.7 611.6,343.9 612.9,340.7C614.2,337.4 614.6,334.6 616,332.5C617.4,330.4 619.3,328.9 621,328.4C622.7,327.8 624.5,328.3 626,329.2C627.5,330.1 628.9,332.1 630,334C631.1,335.9 631.3,338.5 632.5,340.7C633.7,342.9 635.5,345.4 637.4,347.2C639.3,349 641.6,350.2 644,351.3C646.4,352.4 649,353 652,353.7C655,354.4 658.7,355 662,355.4C665.3,355.8 668.5,356.1 671.7,356.2C675,356.3 678.8,356.3 681.5,356.2C684.2,356.1 684.9,354.8 688,355.4C691.1,356 690.5,369.2 700,360C709.5,350.8 733.3,305 745,300C756.7,295 765.8,271.7 770,330C774.2,388.3 815,589.7 770,650C725,710.3 578.3,705.3 500,692C421.7,678.7 339.7,600 300,570C260.3,540 267.2,523.7 262,512C256.8,500.3 266.2,502.6 268.8,500Z" fill="#78dcfa"/>
<path d="M273.8,506.2C276.1,503.6 277.7,502.3 280,500C282.3,497.7 285.4,495.4 287.5,492.5C289.6,489.6 291,485.6 292.5,482.5C294,479.4 293.3,475.8 296.2,473.8C299.2,471.7 305.2,470.7 310,470C314.8,469.3 320.4,469.4 325,469.5C329.6,469.6 333.3,469.5 337.5,470.5C341.7,471.5 346.2,473.5 350,475.5C353.8,477.5 356.7,480.3 360,482.5C363.3,484.7 366.7,487.1 370,488.8C373.3,490.4 376.7,491.9 380,492.5C383.3,493.1 386.7,492.9 390,492.5C393.3,492.1 397.1,491.5 400,490C402.9,488.5 405.2,486.5 407.5,483.8C409.8,481 412.1,477.3 413.8,473.8C415.4,470.2 416,466.5 417.5,462.5C419,458.5 420.4,453.5 422.5,450C424.6,446.5 427.1,443.9 430,441.2C432.9,438.6 437.2,436.2 440,434C442.8,431.8 445,430.5 447,428C449,425.5 450.6,422.4 452,419C453.4,415.6 454.1,411.2 455.4,407.7C456.7,404.2 458.1,401 460,398C461.9,395 464.6,391.9 466.8,389.7C469,387.5 470.8,385.9 473,384.8C475.2,383.7 477.5,382.9 480,383C482.5,383.1 485.3,384.5 488,385.6C490.7,386.7 494.2,388.1 496,389.7C497.8,391.3 497.8,393.2 499,395C500.2,396.8 500.8,399.7 503,400.5C505.2,401.3 508.8,400.7 512.5,400C516.2,399.3 520.8,397.7 525,396.2C529.2,394.8 533.3,393.1 537.5,391.2C541.7,389.4 546.9,387.3 550,385C553.1,382.7 554.1,380.3 556.2,377.5C558.4,374.7 560.7,370.8 563,368C565.3,365.2 568.2,362 570,361C571.8,360 572.5,360.7 574,362C575.5,363.3 576.7,367.2 579,369C581.3,370.8 584.8,372.7 588,373C591.2,373.3 595,372 598,371C601,370 604.1,368.9 606.3,366.8C608.5,364.7 609.6,361.6 611.2,358.6C612.8,355.6 614.4,351.2 616,348.8C617.6,346.4 619.3,344.5 621,344C622.7,343.5 624.8,344.3 626,345.6C627.2,346.9 627.6,350.1 628.4,352C629.2,353.9 629,355.9 630.8,357C632.6,358.1 636.3,358.3 639,358.6C641.7,358.9 644.5,358 647.2,358.6C649.9,359.2 652.9,360.6 655.4,362C657.9,363.4 660.1,365.5 662,366.8C663.9,368.1 664.9,369.7 666.8,370C668.7,370.3 671.4,369.2 673.3,368.4C675.2,367.6 676.6,366.3 678.2,365.2C679.8,364.1 681.4,362.8 683,362C684.6,361.2 685.2,359.8 688,360.3C690.8,360.8 690.5,375.1 700,365C709.5,354.9 733.3,305.8 745,300C756.7,294.2 765.8,271.7 770,330C774.2,388.3 815,589.7 770,650C725,710.3 578.3,705.3 500,692C421.7,678.7 339,599.3 300,570C261,540.7 270.4,526.6 266,516C261.6,505.4 271.4,508.9 273.8,506.2Z" fill="#b4e8f6"/>
<path d="M557.5,382.5C559.2,380.8 565.4,381 570,380C574.6,379 580,377.3 585,376.2C590,375.2 595,374 600,373.8C605,373.5 610.8,373.5 615,375C619.2,376.5 622.5,379.2 625,382.5C627.5,385.8 629.4,390.8 630,395C630.6,399.2 630,403.8 628.8,407.5C627.5,411.2 625.6,415.2 622.5,417.5C619.4,419.8 614.6,420.8 610,421.2C605.4,421.7 599.6,420.8 595,420C590.4,419.2 586.2,418.1 582.5,416.2C578.8,414.4 575,411.7 572.5,408.8C570,405.8 569.6,401.9 567.5,398.8C565.4,395.6 561.7,392.7 560,390C558.3,387.3 555.8,384.2 557.5,382.5Z" fill="#78dcfa"/>
<path d="M564,428C564,425.7 564.7,422.7 566,421C567.3,419.3 570,418.2 572,418C574,417.8 576.6,418.3 578,420C579.4,421.7 580.5,425.5 580.5,428C580.5,430.5 579.4,433.4 578,435C576.6,436.6 574,437.5 572,437.5C570,437.5 567.3,436.6 566,435C564.7,433.4 564,430.3 564,428Z" fill="#78dcfa"/>
<path d="M596.5,397.5C596.8,395.8 598.4,394 600,393C601.6,392 604.2,391.2 606,391.5C607.8,391.8 609.8,392.9 611,394.5C612.2,396.1 613,398.7 613,401C613,403.3 612.2,406.4 611,408.5C609.8,410.6 607.8,412.2 606,413.5C604.2,414.8 602.1,416.4 600.5,416.5C598.9,416.6 597,415.3 596.5,414C596,412.7 596.9,410.3 597.2,408.5C597.5,406.7 598.6,404.8 598.5,403C598.4,401.2 596.2,399.2 596.5,397.5Z" fill="#0ffde5"/>
<path d="M389,493C390.3,491.2 393.7,491.3 396,492C398.3,492.7 401.5,494.3 403,497C404.5,499.7 405.2,504.2 405,508C404.8,511.8 403.3,516.5 402,520C400.7,523.5 398.7,527.7 397,529C395.3,530.3 393.2,530.3 392,528C390.8,525.7 390.7,519.2 390,515C389.3,510.8 388.2,506.7 388,503C387.8,499.3 387.7,494.8 389,493Z" fill="#78dcfa"/>
<path d="M276.2,510C278.7,507.5 280.2,507.1 282.5,505C284.8,502.9 287.5,500.2 290,497.5C292.5,494.8 295,491.5 297.5,488.8C300,486 302.1,483.4 305,481.2C307.9,479.1 311.2,477.1 315,476C318.8,474.9 323.3,474.4 327.5,474.5C331.7,474.6 335.8,475.6 340,476.5C344.2,477.4 348.3,478.4 352.5,480C356.7,481.6 361.2,484 365,486.2C368.8,488.5 372.3,491 375,493.8C377.7,496.5 379.8,499 381.2,502.5C382.7,506 383.2,510.8 383.8,515C384.3,519.2 383.8,524 384.5,527.5C385.2,531 386.2,534 388,536C389.8,538 392.7,539.2 395,539.5C397.3,539.8 400.2,539.6 402,538C403.8,536.4 404.7,533.3 406,530C407.3,526.7 408.5,522.5 410,518C411.5,513.5 413.3,507.8 415,503C416.7,498.2 418.3,493.5 420,489C421.7,484.5 423.2,480.5 425,476C426.8,471.5 429,466.5 431,462C433,457.5 434.7,453.2 437,449C439.3,444.8 442,440.5 445,437C448,433.5 451.9,431.5 455,428C458.1,424.5 461.3,418.9 463.5,415.8C465.7,412.7 466.5,410.8 468.4,409.3C470.3,407.8 472.8,407.2 475,406.9C477.2,406.6 479.3,406.9 481.5,407.7C483.7,408.5 485.6,410.2 488,411.8C490.4,413.4 493.5,415.9 496.2,417.5C498.9,419.1 501.4,420.5 504.4,421.6C507.4,422.7 510.9,422.9 514.2,424C517.5,425.1 520.5,426.9 524,428.5C527.5,430.1 530.7,432 535,433.8C539.3,435.5 545.4,437.1 550,438.8C554.6,440.4 558.3,441.9 562.5,443.8C566.7,445.6 571.2,447.7 575,450C578.8,452.3 581.7,455.8 585,457.5C588.3,459.2 591.7,460.2 595,460C598.3,459.8 602.1,458.3 605,456.2C607.9,454.2 610,450.2 612.5,447.5C615,444.8 617.1,442.1 620,440C622.9,437.9 626.7,437.1 630,435C633.3,432.9 636.7,429.8 640,427.5C643.3,425.2 646.7,423.1 650,421.2C653.3,419.4 656.7,417.2 660,416.5C663.3,415.8 666.2,416.8 670,417C673.8,417.2 678.3,418.3 682.5,418C686.7,417.7 691.2,416.3 695,415C698.8,413.7 702.3,411.7 705,410C707.7,408.3 709.4,406 711.2,405C713.1,404 711.5,404.6 716.2,403.8C721,402.9 731,412.3 740,400C749,387.7 765,288.3 770,330C775,371.7 815,589.7 770,650C725,710.3 578.3,705.3 500,692C421.7,678.7 338.7,598.7 300,570C261.3,541.3 272,530 268,520C264,510 273.8,512.5 276.2,510Z" fill="#fffcc8"/>
<path d="M280,513.8C282.6,511 285,509.8 287.5,507.5C290,505.2 292.5,502.7 295,500C297.5,497.3 300,494.1 302.5,491.2C305,488.4 307.5,485.2 310,483C312.5,480.8 314.6,479 317.5,478C320.4,477 324.2,476.8 327.5,477C330.8,477.2 333.8,478.1 337.5,479C341.2,479.9 345.8,480.9 350,482.5C354.2,484.1 358.3,486.2 362.5,488.8C366.7,491.2 371.7,494.4 375,497.5C378.3,500.6 380.8,503.8 382.5,507.5C384.2,511.2 384.4,515.8 385,520C385.6,524.2 385,529.2 386.2,532.5C387.5,535.8 389.8,538.5 392.5,540C395.2,541.5 399.6,541.9 402.5,541.2C405.4,540.6 407.5,538.5 410,536.2C412.5,534 415.4,530.6 417.5,527.5C419.6,524.4 420.8,521.2 422.5,517.5C424.2,513.8 425.8,509.6 427.5,505C429.2,500.4 430.9,495.3 432.5,490C434.1,484.7 435.2,478.8 437.4,473C439.6,467.2 442.9,460.3 445.6,455C448.3,449.7 451,445 453.7,441C456.4,437 459.3,433.8 462,431C464.7,428.2 467,426.1 470,424.5C473,422.9 476.4,422 480,421.6C483.6,421.2 487.5,421.4 491.3,422.4C495.1,423.3 499.2,425.6 502.7,427.3C506.2,429 509.2,431 512.5,432.5C515.8,434 518.8,435 522.5,436.2C526.2,437.5 530.8,439.2 535,440C539.2,440.8 544.2,440.6 547.5,441.2C550.8,441.9 553.5,442.5 555,443.8C556.5,445 557.1,447.1 556.2,448.8C555.4,450.4 552.3,452.3 550,453.8C547.7,455.2 544.6,455.8 542.5,457.5C540.4,459.2 538.5,461.2 537.5,463.8C536.5,466.2 537.1,469.6 536.2,472.5C535.4,475.4 534.4,479 532.5,481.2C530.6,483.5 527.9,484.8 525,486.2C522.1,487.7 518,488.6 515,490C512,491.4 509.1,492.4 507,494.5C504.9,496.6 504.1,499.9 502.5,502.5C500.9,505.1 500,508.1 497.5,510C495,511.9 491.2,512.9 487.5,513.8C483.8,514.6 478.8,514.2 475,515C471.2,515.8 467.5,517.2 465,518.8C462.5,520.2 460.6,522.1 460,524C459.4,525.9 459.7,528.2 461.5,530C463.3,531.8 468,533.5 471,534.7C474,535.9 476.6,535.8 479.3,537.2C482.1,538.6 484.8,541.6 487.5,543C490.2,544.4 493.5,545 495.6,545.8C497.7,546.6 497.6,547.9 500,548C502.4,548.1 506.3,547.1 509.8,546.3C513.3,545.5 517.4,544 521.2,543C525,542 528.9,541.3 532.7,540.6C536.5,539.9 540.2,539.3 544,539C547.8,538.7 551.5,538.6 555.6,539C559.7,539.4 564.5,540.6 568.6,541.4C572.7,542.2 576.2,543.2 580,543.9C583.8,544.6 588,545.4 591.5,545.5C595,545.6 598,545.4 601.3,544.7C604.5,544 608.3,542.8 611,541.4C613.7,540 615.9,538.7 617.6,536.5C619.3,534.3 620.7,532 621.2,528C621.7,524 620.3,517.2 620.5,512.5C620.7,507.8 621.3,503.8 622.5,500C623.7,496.2 625.4,493.1 627.5,490C629.6,486.9 632.1,484 635,481.2C637.9,478.5 641.7,476 645,473.8C648.3,471.5 651.7,469.6 655,467.5C658.3,465.4 661.7,462.9 665,461.2C668.3,459.6 671.2,458.3 675,457.5C678.8,456.7 683.3,456.4 687.5,456.2C691.7,456.1 696.7,456.7 700,456.5C703.3,456.3 704.6,455.9 707.5,455C710.4,454.1 714,452.7 717.5,451.2C721,449.8 723.3,448.1 728.8,446.2C734.2,444.4 743.1,459.4 750,440C756.9,420.6 766.7,295 770,330C773.3,365 815,589.7 770,650C725,710.3 578.3,705.3 500,692C421.7,678.7 338,598 300,570C262,542 275.3,533.4 272,524C268.7,514.6 277.4,516.5 280,513.8Z" fill="#ffd591"/>
<path d="M514,526C514,524.2 514.8,521.8 516,520.5C517.2,519.2 519.3,518.5 521,518.5C522.7,518.5 524.8,519.2 526,520.5C527.2,521.8 528,524.2 528,526C528,527.8 527.2,530.2 526,531.5C524.8,532.8 522.7,533.5 521,533.5C519.3,533.5 517.2,532.8 516,531.5C514.8,530.2 514,527.8 514,526Z" fill="#b4e8f6"/>
<path d="M292.5,515C294.2,512.8 297.5,510.8 300,508.8C302.5,506.7 305,504.2 307.5,502.5C310,500.8 312.5,499.6 315,498.8C317.5,497.9 320.5,497.1 322.5,497.5C324.5,497.9 325.4,499.2 327,501C328.6,502.8 334.8,504.2 332,508C329.2,511.8 317,521.7 310,524C303,526.3 292.9,523.5 290,522C287.1,520.5 290.8,517.2 292.5,515Z" fill="#ffac19"/>
<path d="M360,558.4C363.9,558.9 365.5,560.1 368.2,560.8C370.9,561.5 373.3,562.5 376.3,562.8C379.3,563.1 382.7,563.1 386,562.5C389.3,561.9 393,560.5 396,559.2C399,558 401.3,556 404,555C406.7,554 409.6,553.5 412.3,553.5C415.1,553.5 418.1,554 420.5,555C422.9,556 424.8,557.8 427,559.2C429.2,560.6 431.3,562.2 433.5,563.3C435.7,564.4 437.8,565.4 440,565.8C442.2,566.2 444.4,566.3 446.6,565.8C448.8,565.2 450.8,564 453,562.5C455.2,561 457.5,558.6 459.7,556.8C461.9,555 463.8,553.2 466.2,551.9C468.6,550.6 471.4,549.5 474.4,549C477.4,548.5 480.9,548.5 484.2,548.6C487.5,548.7 491.4,548.7 494,549.4C496.6,550.1 497.7,552.1 500,553C502.3,553.9 505.3,554 508,554.5C510.7,555 513.3,555.5 516.3,556C519.3,556.5 522.7,557.2 526,557.8C529.3,558.4 532.7,558.6 536,559.4C539.3,560.2 542.5,561.5 545.8,562.7C549.1,563.9 552.3,565.6 555.6,566.8C558.9,568 562.2,569.2 565.4,570C568.6,570.8 571.7,571.6 575,571.7C578.3,571.8 582,571.5 585,570.8C588,570.1 590.3,569.1 593,567.6C595.7,566.1 598.3,564.2 601.3,562C604.3,559.8 607.7,556.8 611,554.5C614.3,552.2 618.2,550.1 621,548C623.8,545.9 625.3,544.6 627.8,542C630.3,539.4 633,535.5 636,532.3C639,529 642.5,525.8 645.8,522.5C649.1,519.2 652.6,515.7 655.6,512.7C658.6,509.7 660.7,506.9 663.7,504.5C666.7,502.1 670,499.4 673.5,498C677,496.6 681.5,496.3 685,496.3C688.5,496.3 691.5,498 694.8,498C698.1,498 701.3,497.7 704.6,496.3C707.9,494.9 711.4,491.7 714.4,489.8C717.4,487.9 720.1,486.6 722.5,485C724.9,483.4 726.8,482.8 729,480C731.2,477.2 730.8,469.7 736,468C741.2,466.3 754.3,439.7 760,470C765.7,500.3 813.3,613 770,650C726.7,687 571.7,700.3 500,692C428.3,683.7 365.8,622.3 340,600C314.2,577.7 341.7,564.9 345,558C348.3,551.1 356.1,557.9 360,558.4Z" fill="#ffac19"/>
<path d="M412.3,613C415.2,607.2 415,607.4 417.2,605C419.4,602.6 422.7,600.6 425.4,598.4C428.1,596.2 430.8,593.8 433.5,591.9C436.2,590 438.7,588.6 441.7,587C444.7,585.4 448.2,583.8 451.5,582C454.8,580.2 458.1,578 461.3,576.4C464.6,574.8 468,573.7 471,572.3C474,570.9 476.6,569.4 479.3,568.2C482.1,567 484.8,565.8 487.5,565C490.2,564.2 493.5,564.4 495.6,563.3C497.7,562.2 497.6,559.3 500,558.6C502.4,557.9 506.3,558.9 509.8,559C513.3,559.1 517.7,559.1 521.2,559.4C524.7,559.7 528.3,560.1 531,561C533.7,561.9 536.1,563.1 537.6,565C539.1,566.9 538.9,570.2 540,572.5C541.1,574.8 541.7,577.6 544,579C546.3,580.4 550.4,581 554,581C557.6,581 561.9,579 565.4,579C568.9,579 571.7,580.4 575,580.7C578.3,581 581.7,581.2 585,580.7C588.3,580.2 591.5,578.7 594.8,577.4C598.1,576.1 601.3,574.4 604.6,572.8C607.9,571.2 611.1,569.7 614.4,568C617.7,566.3 620.9,564.4 624.2,562.7C627.5,561 631.4,559.2 634,557.8C636.6,556.4 637.5,556.3 640,554.5C642.5,552.7 645.9,548.8 649,547C652.1,545.2 655.5,544.8 658.8,543.7C662.1,542.6 665.6,542.1 668.6,540.5C671.6,538.9 674.3,536.5 676.8,534C679.2,531.5 680.8,528.3 683.3,525.8C685.8,523.3 688.8,520.8 691.5,519.2C694.2,517.6 697,516.7 699.7,516C702.4,515.3 705.4,514.8 707.8,515C710.2,515.2 708.6,516.2 714,517C719.4,517.8 730.7,497.8 740,520C749.3,542.2 810,621.3 770,650C730,678.7 561.7,693.7 500,692C438.3,690.3 414.6,653.2 400,640C385.4,626.8 409.4,618.8 412.3,613Z" fill="#ff8a0f"/>
<path d="M538.4,590.5C538.7,588.7 540.2,587.4 542.5,586.4C544.8,585.4 549,584.7 552.3,584.7C555.5,584.7 558.7,585.9 562,586.4C565.3,586.9 569,587.5 572,588C575,588.5 578.4,588.5 580,589.6C581.6,590.7 582.2,592.9 581.7,594.5C581.2,596.1 579,598.1 576.8,599.4C574.6,600.6 571.6,601.6 568.6,602C565.6,602.4 562.1,602.3 558.8,602C555.5,601.7 552,601.1 549,600.3C546,599.5 542.6,598.6 540.8,597C539,595.4 538.1,592.3 538.4,590.5Z" fill="#ffac19"/>
<path d="M461.3,601.7C464,594.5 464,598.4 466.2,596.8C468.4,595.2 471.7,593.5 474.4,591.9C477.1,590.3 479.8,588.6 482.5,587C485.2,585.4 487.8,583.6 490.7,582C493.6,580.4 497.1,578.3 500,577.4C502.9,576.5 505,576.6 508,576.6C511,576.6 515,576.5 518,577.4C521,578.3 524.1,580.1 526,582.3C527.9,584.5 528.6,587.8 529.4,590.5C530.2,593.2 530.5,595.9 531,598.6C531.5,601.3 531.6,604.6 532.7,606.8C533.8,609 535.4,610.6 537.6,611.7C539.8,612.8 542.8,613.2 545.8,613.3C548.8,613.4 552.6,613 555.6,612.5C558.6,612 561.2,611.2 563.7,610C566.2,608.8 568.1,606.5 570.3,605C572.5,603.5 574.3,602.1 576.8,601C579.2,599.9 582,599.4 585,598.6C588,597.8 591.5,596.9 594.8,596.2C598.1,595.5 601.3,595.5 604.6,594.5C607.9,593.5 611.1,591.8 614.4,590.5C617.7,589.2 621.2,587.5 624.2,586.5C627.2,585.5 629.8,585 632.4,584.5C635,584 637.8,583.8 640,583.5C642.2,583.2 643.2,583.6 645.8,583C648.4,582.4 652.3,580.9 655.6,580C658.9,579.1 662.4,578.2 665.4,577.7C668.4,577.2 671.1,577.2 673.5,577.2C675.9,577.2 675.6,574.2 680,578C684.4,581.8 705,583 700,600C695,617 683.3,664.7 650,680C616.7,695.3 533.3,698.7 500,692C466.7,685.3 456.4,655 450,640C443.6,625 458.6,608.9 461.3,601.7Z" fill="#e8550c"/>
<path d="M556,618C557.2,613.5 558,621.2 562,621C566,620.8 575.3,613.8 580,617C584.7,620.2 590.8,634.5 590,640C589.2,645.5 580.8,648.7 575,650C569.2,651.3 558.2,653.3 555,648C551.8,642.7 554.8,622.5 556,618Z" fill="#aa3c0a"/>
<path d="M747.5,535 752.5,535 754.3,537.5 756.2,540 756.2,543.3 755.8,546.4 755,550 754.5,552.9 754.7,556 754.5,559.7 753.8,562.5 753.3,565.9 753.8,568.7 752.9,571.8 752.5,575 751.1,577.4 750.4,580 749.9,582.5 748.8,585 747.7,588.2 747,591.5 746.2,595 743.8,595 742.9,592.2 741.2,590 738.8,587.7 736.2,585 734.6,582.7 732.5,580.4 731.2,577.5 730.3,573.9 730.4,570.8 729.5,567.5 730.6,564.4 731.3,560.8 732,557.5 733.6,555.1 734,552.7 735.6,550.3 736.2,547.5 737.6,545 739.1,542 741.2,540 742.8,538.2 745,536.3Z" fill="#e8550c"/>
<path d="M740,534 756,534 757,543 745,545Z" fill="#ff8a0f"/>
<path d="M542.5,662.5 544.1,659.8 545.8,657.7 547.5,655 549.9,654.1 552.3,652.5 555.1,651.6 557.5,650 560.4,648.8 564,648.8 566.9,648.5 570,647.5 573.3,647.6 576.6,648.3 580,648.8 580.7,652.3 581.2,656.2 579.5,659.2 578.1,661.8 577.5,665 575.6,667.2 573.8,669.2 573.1,672.1 571.2,673.8 568.9,675.3 566.5,676.6 564.9,678.4 562.5,680 559.2,679.9 555.6,680 552.5,680 550,678 547.3,676.4 545,675 543.8,671.4 541.2,668.8 542.3,665.5Z" fill="#aa3c0a"/>
</g>
<g fill="none" stroke="#8e8e86" stroke-opacity="0.75" stroke-width="1.05" stroke-linejoin="round" clip-path="url(#cn)">
<path d="M623.8,375 635,380 642.5,375 648.8,371.2 656.2,373.8 658.8,382.5 665,386.2 673.8,380 678.8,373.8 685,366.2 692.5,358.8 696.2,350"/>
<path d="M685,366.2 695,372.5 703.8,378.8"/>
<path d="M635,380.5 632.5,390 637.5,395 631.2,400 627.5,408.8 633.8,412.5 640,416.2 642.5,422.5 637.5,427.5 635,433.8"/>
<path d="M673.8,380 677.5,390 675,400 682.5,403.8 687.5,406.2 683.8,412.5 685,418.8 690,422.5 696.2,427.5 700,432.5 698.8,437.5"/>
<path d="M560,393.8 563.8,405 571.2,415 582.5,421.2 595,423 605,421.2 610,425 611.2,432.5 620,436.2 630,435 635,433.8"/>
<path d="M635,433.8 640,440 643.8,447.5 646.2,455 648.8,462.5 652.5,465"/>
<path d="M652.5,465 660,462.5 667.5,460 677.5,460 685,457.5 692.5,452.5 698.8,448.8 700,442.5 698.8,437.5"/>
<path d="M698.8,437.5 707.5,436.2 715,440 722.5,437.5 726.2,433.8"/>
<path d="M652.5,465 645,470 635,475 625,480 620,490"/>
<path d="M685,457.5 682.5,467.5 687.5,475 690,485"/>
<path d="M453.8,400 465,405 468.8,415 476.2,418.8 483.8,422.5 492.5,418.8 500,423.8 510,425 520,428.8 528.8,430 530,437.5"/>
<path d="M530,437.5 528.8,446.2 525,453.8 517.5,460 510,465 505,468.8 497.5,466.2 490,465 486.2,471.2 490,477.5 483.8,481.2 486.2,487.5 492.5,491.2 491.2,498.8 496.2,502.5 501.2,497.5 505,493.8 512.5,492.5 520,487.5 527.5,485 533.8,481.2 537.5,472.5 535,462.5 540,458.8 547.5,453.8 552.5,448.8 555,446.2"/>
<path d="M555,446.2 550,437.5 547.5,427.5 550,417.5 545,412.5 535,415 530,422.5 528.8,430"/>
<path d="M545,412.5 555,410 565,411.2 570,420 580,423.8 592.5,425 605,422.5"/>
<path d="M537.5,472.5 547.5,475 555,472.5 565,467.5 575,466.2 585,471.2 595,473.8 605,475 612.5,480 620,485"/>
<path d="M547.5,475 543.8,485 547.5,495 542.5,505 547.5,512.5 545,522.5 550,530 547.5,540 555,543.8"/>
<path d="M491.2,498.8 480,505 470,502.5 462.5,510 467.5,520 460,527.5 465,535 470,540 467.5,550"/>
<path d="M467.5,550 480,552.5 492.5,550 505,553.8 512.5,550 522.5,547.5 535,550 542.5,546.2 555,543.8"/>
<path d="M555,543.8 565,537.5 575,536.2 576.8,544.7"/>
<path d="M588.2,559.4 594.8,554.5 601.3,551.2 611,548 617.6,546.3 624.2,549.6 630.7,554.5 635.6,559.4 640.8,560"/>
<path d="M620,515 616.2,507.5 620,500 618.8,490 620,485"/>
<path d="M467.5,550 462.5,560 470,565 465,574.5"/>
<path d="M688.2,480 690.7,489 698,495.5 699.7,502.1 707,503.7 712.7,499.6 719.3,500.4 724.2,497.2 729.1,489"/>
<path d="M698,495.5 691.5,496.3 685,495.5 676.8,496.3 671.9,501.2 669.4,509.4 665.4,517.6 662.9,527.4 658,535.6 654.7,545.4 656.4,551.9"/>
<path d="M656.4,551.9 665.4,555.2 672.7,560.1 676.8,569.1 674.3,576.4 671.9,585.4"/>
<path d="M656.4,551.9 650.7,556.8 640.8,560"/>
<path d="M626.1,548.6 622.9,540.5 624.5,533.9 621.2,527.4 622.9,519.2"/>
<path d="M467.5,550 470,560 473.8,570 480,573.8 490,576.2 496.2,580 497.5,592.5"/>
<path d="M576.8,544.7 581.7,554.5 588.2,559.4 593,562.7 591.5,572.5 588.2,582.3 585,592 580,598.6 575,606.8 572,616.6"/>
<path d="M663.8,37.5 662.5,45 675,48.8 682.5,60 690,65 700,62.5 710,55 717.5,60 721.2,65"/>
<path d="M707.5,132.5 702.5,127.5 695,130 691.2,137.5 698.8,145 702.5,152.5 701.2,160 692.5,160 687.5,163.8 695,170 697.5,180 705,185 708.8,194.5"/>
<path d="M727.5,165 742.5,160 755,165 762.5,175 772.5,170 780,177.5 790,180 797.5,175 805,180 811.2,176.2"/>
<path d="M717.5,195 722.5,205 732.5,215 742.5,225 750,235 755,245 756.8,248.8"/>
<path d="M590,276.8 596.5,262.1 599.8,253.9 604.7,244.1 608,249 614.5,252.3 622.7,247.4 630.8,240.8 637.4,232.7 643.9,229.4 650.5,232.7 653.7,242.5 655.4,249 661.9,252.3 666.8,253.9 665.2,242.5 666.8,232.7 673.3,231 678.2,240.8 684.8,232.7 691.3,226.1 699.5,219.6 707.6,214.7 715.8,209.8 720.7,203.3 717.5,200"/>
<path d="M666.8,253.9 666,260.5 670.1,265.4 675,268.6 679.1,265.4 684,262.1 688,257.2"/>
<path d="M485,331.2 482.5,342.5 487.5,352.5 485,362.5 492.5,368.8 497.5,372.5 498.8,362.5 497.5,350 502.5,342.5 511.2,340 515,347.5 521.2,352.5 525,360 530,365 528.8,355 525,345 520,335 512.5,330 508.8,322.5 503.8,315 501.2,307.5 495,307.5 490,316.2 486.2,323.8 485,331.2"/>
<path d="M531.2,322.5 536.2,311.2 545,302.5 555,295 561.2,292"/>
<path d="M530,365 525,370 515,375 505,376.2 500,380 501.2,390 498.8,400 492.5,410 495,420 485,420 477.5,417.5"/>
<path d="M495,420 507.5,422.5 517.5,430 527.5,430 532.5,437.5 545,440"/>
<path d="M557.5,383.8 560,392.5 565,402.5 570,412.5 580,418.8 592.5,421.2 602.5,422.5"/>
<path d="M570,412.5 560,410 550,411.2 545,417.5 548.8,425 545,432.5 545,440"/>
<path d="M590,342.5 593.8,335 597.5,327.5 600,320 596.2,312.5 600,305 597.5,297.5 592.5,292.5 587.5,287.5"/>
<path d="M580,372.5 590,370 597.5,365 602.5,352.5 597.5,346.2 590,342.5"/>
<path d="M602.5,352.5 610,347.5 620,345 625,340 630,345 628.8,352.5 635,357.5 633.8,366.2"/>
<path d="M358.8,230 357.5,245 347.5,251.2 340,255 335,262.5 327.5,267.5 321.2,271.2 321.2,290 315,293.8 302.5,296.2 290,298.8 280,300 272.5,302.5 275,312.5 281.2,322.5 277.5,330 280,340 277.5,346.2 267.5,342.5 262.5,340 257.5,343.8 255,352.5 256.2,365 253.8,377.5 257.5,390 262.5,400"/>
<path d="M321.2,290 326.2,297.5 332.5,305 342.5,308.8 352.5,313.8 362.5,316.2 366.2,310 367.5,300 375,297.5 385,302.5 395,307.5 405,315 415,320 422.5,327.5 430,335 437.5,342.5 442.5,350 443.8,360 440,370 437.5,380 435,390"/>
<path d="M376.2,235 380,247.5 387.5,262.5 392.5,272.5 402.5,275 412.5,272.5 412.5,282.5 406.2,288.8 412.5,295 420,302.5 427.5,310 435,312.5 440,308.8 447.5,305 454.5,302.5"/>
<path d="M120,333.8 126.2,328.8 135,331.2 147.5,331.2 160,333.8 172.5,338.8 185,340 200,338.8 212.5,333.8 227.5,332.5 240,333.8 254.5,336.2 265,341.2 277.5,347.5 290,355"/>
<path d="M258,383 270,392 285,398 300,396 318,402 335,398 352,405 365,418 372,421"/>
<path d="M372,421 380,410 392,405 405,410 418,405 430,410 440,402 448,398 453.8,400"/>
<path d="M386,492 395,490 402.5,500 412.5,515 420,530 428,538 436,539 445,536 452,530 458,540 464,547 467.5,550"/>
<path d="M367.5,481 374,486 381,490 386,492"/>
<path d="M627,276 633,273 640,276 642,283 637,289 630,288 626,283 627,276"/>
<path d="M642,283 648,286 652,292 649,300 643,299 641,292 637,289"/>
</g>
<g fill="none" stroke="#2e4ce6" stroke-linejoin="round" stroke-linecap="round" clip-path="url(#cn)">
<path d="M405,540 412.5,537.5 420,536.2 427.5,542.5 435,540 445,532.5 450,520 452.5,507.5 460,497.5 472.5,495 485,490 497.5,485 502.5,478.8 510,473.8 520,467.5 530,460 540,455 550,451.2 557.5,450 565,451.2 575,455 582.5,461.2 590,467.5 596.2,472.5 602.5,473.8 607.5,470 612.5,462.5 617.5,456.2 622.5,453.8 628.8,455 635,461.2 642.5,466.2 650,466.2 657.5,462.5 662.5,455 667.5,447.5 675,437.5 680,430 685,421.2 690,417.5 700,414.5 707.5,415 715,418 722.5,417.5 730,422.5 733.8,428.8" stroke-width="2"/>
<path d="M272,370 275,378 287.5,382.5 300,385 315,379 326,376 335,381 340,392.5 347.5,400 355,410 360,418 372.5,420 377.5,435 382.5,447.5 383.8,462.5 386.2,480 387.5,495 392.5,512.5 398.8,525 402.5,517.5 406.2,510 403.8,525 405,537.5" stroke-width="1.4"/>
<path d="M322.5,395 324,402.5 332.5,410 342.5,417.5 350,425 353.8,420 360,440 366.2,457.5 375,475 380,495 384.5,520 386,541 391,556 401,567.4 398.4,585.4 401,596.8 407.4,611.5 412.3,618 409,624.6 405,627.8" stroke-width="1.4"/>
<path d="M348.8,372.5 360,375 370,377.5 377.5,375 385,382.5 390,390 395,395 402.5,395 410,400 417.5,401.2 427.5,400 435,405 440,406.2 438.8,400 432.5,396.2 425,392.5 417.5,385 411.2,377.5 408,370 411.2,363.8 417.5,359.5 430.8,359 439,363 448.8,364 457,360.7 461.9,359 466.8,355 471.7,350 470,343.5 471.7,338.6 478.2,335.4 484.8,331.3 491.3,327.2 496.2,319 501,310.8 502.7,302.7 502.7,291.2 506,283 514.2,276.5 524,274 537,278 548,277.2 557.4,276.3 564.9,279 566.7,288.4 563,299.5 559.3,312.6 556.5,323.7 557.4,336.7 558.4,351.6 556.2,365 557.5,377.5 565,376.2 575,375 585,373.8 599.8,372.5 609.6,372.3 619.4,370 625,363.5 632.5,353.7 639,345.6 647.2,337.4 655.4,328.4 662,321.9 667.6,316 670,314.5" stroke-width="2"/>
<path d="M721.2,65 718.8,77.5 715,90 716.2,97.5 712.5,110 711.2,120 707.5,132.5 706.2,142.5 711.2,150 715,157.5 720,162.5 727.5,165 737.5,170 747.5,175 752.5,182.5 757.5,192.5 762.5,195 763.8,201" stroke-width="2"/>
<path d="M808.8,102.5 802.5,110 792.5,115 785,125 780,135 775,142.5 762.5,146.2 750,150 742.5,156.2 732.5,162.5 725,165" stroke-width="2"/>
<path d="M461.3,546 458,552.7 459.7,559.2 453,564 448.2,569 447.4,582 453,581.3 456.4,575.6 464.6,572.3 472.7,567.4 481,562.5 489,564 495.6,567.4 500,562 509.8,557.8 516.3,567.6 519.6,577.4 526,582.3 534.3,584 542.5,580.7 552.3,582.3 562,587.2 568.6,585.6 576.8,586.4 585,587.2 591.5,592 598,591.3 606.2,590.5 612.7,595.4 617.6,602 621.7,606.8" stroke-width="2"/>
<path d="M603.8,422.5 612.5,421.2 622.5,420 632.5,417.5 642.5,415 652.5,410 660,406 670,399 678,395 687.5,390 695,383.8 702.5,378.8" stroke-width="1.4"/>
<path d="M345,428 352,440 358,455 364,470 368,485 370,497 371,508" stroke-width="1.4"/>
</g>
<g fill="none" stroke-linejoin="round" stroke-linecap="round">
<path d="M268.8,500C270.2,499.4 275,498.1 277.5,496.2C280,494.4 282.3,491.7 283.8,488.8C285.2,485.8 285.6,481.7 286.2,478.8C286.9,475.8 286,473.1 287.5,471.2C289,469.4 291.2,468.5 295,467.5C298.8,466.5 305.4,465.6 310,465C314.6,464.4 318.3,464 322.5,463.8C326.7,463.5 330.8,463.1 335,463.8C339.2,464.4 343.8,465.8 347.5,467.5C351.2,469.2 354.2,471.7 357.5,473.8C360.8,475.8 364.2,478.3 367.5,480C370.8,481.7 374.2,483 377.5,483.8C380.8,484.5 384.3,485 387.5,484.5C390.7,484 393.6,482.9 396.5,481C399.4,479.1 402.5,476.5 404.7,473C406.9,469.5 408.2,464.3 409.6,460C411,455.7 411.5,450.6 412.9,447C414.3,443.4 415.4,441.2 417.8,438.7C420.2,436.2 424.3,433.9 427.6,432C430.9,430.1 434.4,429.5 437.4,427.3C440.4,425.1 443.4,422.3 445.6,419C447.8,415.7 449.1,410.9 450.5,407.7C451.9,404.4 452.3,401.9 453.7,399.5C455.1,397.1 456.7,395.4 458.6,393C460.5,390.6 462.8,387 465,384.8C467.2,382.6 469.2,381 471.7,380C474.2,379 477.3,378.6 480,379C482.7,379.4 485.3,381.2 488,382.4C490.7,383.6 493.3,385.5 496,386.4C498.7,387.3 501.4,388 504.4,388C507.4,388 510.7,387.2 514,386.4C517.3,385.6 520.5,384.3 524,383C527.5,381.7 531.1,380.5 535,378.8C538.9,377 543.8,374.6 547.5,372.5C551.2,370.4 554.6,368.2 557.5,366C560.4,363.8 562.5,361.2 565,359.5C567.5,357.8 570.4,355.4 572.5,355.5C574.6,355.6 575.8,358.2 577.5,360C579.2,361.8 580.4,365 582.5,366.5C584.6,368 587.7,368.9 590,369C592.3,369.1 594.3,368.2 596.5,366.8C598.7,365.4 601.1,362.8 603,360.3C604.9,357.8 606.4,355.3 608,352C609.6,348.7 611.6,343.9 612.9,340.7C614.2,337.4 614.6,334.6 616,332.5C617.4,330.4 619.3,328.9 621,328.4C622.7,327.8 624.5,328.3 626,329.2C627.5,330.1 628.9,332.1 630,334C631.1,335.9 631.3,338.5 632.5,340.7C633.7,342.9 635.5,345.4 637.4,347.2C639.3,349 641.6,350.2 644,351.3C646.4,352.4 649,353 652,353.7C655,354.4 658.7,355 662,355.4C665.3,355.8 668.5,356.1 671.7,356.2C675,356.3 678.8,356.3 681.5,356.2C684.2,356.1 686.9,355.5 688,355.4" stroke="#98822a" stroke-width="1.9" clip-path="url(#cn)"/>
<path d="M596.5,397.5C596.8,395.8 598.4,394 600,393C601.6,392 604.2,391.2 606,391.5C607.8,391.8 609.8,392.9 611,394.5C612.2,396.1 613,398.7 613,401C613,403.3 612.2,406.4 611,408.5C609.8,410.6 607.8,412.2 606,413.5C604.2,414.8 602.1,416.4 600.5,416.5C598.9,416.6 597,415.3 596.5,414C596,412.7 596.9,410.3 597.2,408.5C597.5,406.7 598.6,404.8 598.5,403C598.4,401.2 596.2,399.2 596.5,397.5Z" stroke="#98822a" stroke-width="1.9"/>
<path d="M280,513.8C281.2,512.7 285,509.8 287.5,507.5C290,505.2 292.5,502.7 295,500C297.5,497.3 300,494.1 302.5,491.2C305,488.4 307.5,485.2 310,483C312.5,480.8 314.6,479 317.5,478C320.4,477 324.2,476.8 327.5,477C330.8,477.2 333.8,478.1 337.5,479C341.2,479.9 345.8,480.9 350,482.5C354.2,484.1 358.3,486.2 362.5,488.8C366.7,491.2 371.7,494.4 375,497.5C378.3,500.6 380.8,503.8 382.5,507.5C384.2,511.2 384.4,515.8 385,520C385.6,524.2 385,529.2 386.2,532.5C387.5,535.8 389.8,538.5 392.5,540C395.2,541.5 399.6,541.9 402.5,541.2C405.4,540.6 407.5,538.5 410,536.2C412.5,534 415.4,530.6 417.5,527.5C419.6,524.4 420.8,521.2 422.5,517.5C424.2,513.8 425.8,509.6 427.5,505C429.2,500.4 430.9,495.3 432.5,490C434.1,484.7 435.2,478.8 437.4,473C439.6,467.2 442.9,460.3 445.6,455C448.3,449.7 451,445 453.7,441C456.4,437 459.3,433.8 462,431C464.7,428.2 467,426.1 470,424.5C473,422.9 476.4,422 480,421.6C483.6,421.2 487.5,421.4 491.3,422.4C495.1,423.3 499.2,425.6 502.7,427.3C506.2,429 509.2,431 512.5,432.5C515.8,434 518.8,435 522.5,436.2C526.2,437.5 530.8,439.2 535,440C539.2,440.8 544.2,440.6 547.5,441.2C550.8,441.9 553.5,442.5 555,443.8C556.5,445 557.1,447.1 556.2,448.8C555.4,450.4 552.3,452.3 550,453.8C547.7,455.2 544.6,455.8 542.5,457.5C540.4,459.2 538.5,461.2 537.5,463.8C536.5,466.2 537.1,469.6 536.2,472.5C535.4,475.4 534.4,479 532.5,481.2C530.6,483.5 527.9,484.8 525,486.2C522.1,487.7 518,488.6 515,490C512,491.4 509.1,492.4 507,494.5C504.9,496.6 504.1,499.9 502.5,502.5C500.9,505.1 500,508.1 497.5,510C495,511.9 491.2,512.9 487.5,513.8C483.8,514.6 478.8,514.2 475,515C471.2,515.8 467.5,517.2 465,518.8C462.5,520.2 460.6,522.1 460,524C459.4,525.9 459.7,528.2 461.5,530C463.3,531.8 468,533.5 471,534.7C474,535.9 476.6,535.8 479.3,537.2C482.1,538.6 484.8,541.6 487.5,543C490.2,544.4 493.5,545 495.6,545.8C497.7,546.6 497.6,547.9 500,548C502.4,548.1 506.3,547.1 509.8,546.3C513.3,545.5 517.4,544 521.2,543C525,542 528.9,541.3 532.7,540.6C536.5,539.9 540.2,539.3 544,539C547.8,538.7 551.5,538.6 555.6,539C559.7,539.4 564.5,540.6 568.6,541.4C572.7,542.2 576.2,543.2 580,543.9C583.8,544.6 588,545.4 591.5,545.5C595,545.6 598,545.4 601.3,544.7C604.5,544 608.3,542.8 611,541.4C613.7,540 615.9,538.7 617.6,536.5C619.3,534.3 620.7,532 621.2,528C621.7,524 620.3,517.2 620.5,512.5C620.7,507.8 621.3,503.8 622.5,500C623.7,496.2 625.4,493.1 627.5,490C629.6,486.9 632.1,484 635,481.2C637.9,478.5 641.7,476 645,473.8C648.3,471.5 651.7,469.6 655,467.5C658.3,465.4 661.7,462.9 665,461.2C668.3,459.6 671.2,458.3 675,457.5C678.8,456.7 683.3,456.4 687.5,456.2C691.7,456.1 696.7,456.7 700,456.5C703.3,456.3 704.6,455.9 707.5,455C710.4,454.1 714,452.7 717.5,451.2C721,449.8 726.9,447.1 728.8,446.2" stroke="#6a0a08" stroke-width="2.3" clip-path="url(#cn)"/>
</g>
<path d="M666.2,314.2 669.5,310 674.8,312.6 672.5,317.6 668,318.2Z" fill="#4a50e0"/>
<path d="M688,321.8 693,316 699.5,313 705,313.4" fill="none" stroke="#98822a" stroke-width="1.6"/>
<path d="M721,412.5 727,414.5 732,418 735.5,424 736.5,429.5 733,430 730,424.5 725.5,419.5 720,416.5Z" fill="#3050f8"/>
<path d="M697.8,561.1a1.3,1 0 1,0 0.01,0ZM698.8,558.9a0.8,0.6 0 1,0 0.01,0ZM687.7,569.3a0.8,0.6 0 1,0 0.01,0ZM698.2,557a1.3,1.1 0 1,0 0.01,0ZM645.5,596.6a1,0.8 0 1,0 0.01,0ZM698.1,559.7a0.7,0.6 0 1,0 0.01,0ZM739.9,459a0.6,0.5 0 1,0 0.01,0ZM724.6,511.2a0.9,0.7 0 1,0 0.01,0ZM673.3,582.7a1.2,0.9 0 1,0 0.01,0ZM694.7,560.5a1.2,1 0 1,0 0.01,0ZM702.6,557a1.4,1.1 0 1,0 0.01,0ZM649,595.5a1.1,0.8 0 1,0 0.01,0ZM743,453.3a1,0.8 0 1,0 0.01,0ZM718.7,523.2a1.4,1.1 0 1,0 0.01,0ZM743.3,454.8a0.6,0.5 0 1,0 0.01,0ZM705.8,549.7a0.7,0.5 0 1,0 0.01,0ZM665.1,588.4a0.9,0.7 0 1,0 0.01,0ZM718.8,522.8a1.3,1 0 1,0 0.01,0ZM739.9,477.5a0.6,0.5 0 1,0 0.01,0ZM696.1,559.6a1.1,0.9 0 1,0 0.01,0ZM700,559.5a1.3,1 0 1,0 0.01,0ZM701.6,553.3a1,0.8 0 1,0 0.01,0ZM730.9,499.3a1.5,1.2 0 1,0 0.01,0ZM677.8,579.9a0.8,0.6 0 1,0 0.01,0ZM706.4,550.1a1.1,0.9 0 1,0 0.01,0ZM737.6,468.1a0.8,0.7 0 1,0 0.01,0ZM669.6,584.6a0.7,0.5 0 1,0 0.01,0ZM739.2,470.5a0.6,0.5 0 1,0 0.01,0ZM711.9,538.9a1.5,1.2 0 1,0 0.01,0ZM689.7,564.7a0.9,0.8 0 1,0 0.01,0ZM666.2,588.7a1.3,1.1 0 1,0 0.01,0ZM722.2,511.1a1.2,0.9 0 1,0 0.01,0ZM684.9,574.1a1.4,1.1 0 1,0 0.01,0ZM670.3,583.2a0.7,0.6 0 1,0 0.01,0ZM684.1,571.7a1.2,1 0 1,0 0.01,0ZM721.9,517a1,0.8 0 1,0 0.01,0ZM689.6,567.6a0.7,0.5 0 1,0 0.01,0ZM724.7,510a1.2,0.9 0 1,0 0.01,0ZM740.1,471.5a0.8,0.6 0 1,0 0.01,0ZM741.9,452.7a0.8,0.7 0 1,0 0.01,0ZM740.2,462.3a1.1,0.9 0 1,0 0.01,0ZM734.7,483.8a1,0.8 0 1,0 0.01,0ZM714.7,533.1a1.1,0.9 0 1,0 0.01,0ZM735.9,488.8a1,0.8 0 1,0 0.01,0ZM712.3,542.2a0.6,0.5 0 1,0 0.01,0ZM664.1,587a0.9,0.7 0 1,0 0.01,0ZM732.1,490.5a1.1,0.9 0 1,0 0.01,0ZM739.5,468.3a1.2,1 0 1,0 0.01,0ZM715.2,530a1.4,1.1 0 1,0 0.01,0ZM699.9,555.1a1,0.8 0 1,0 0.01,0ZM741.1,457.6a1.1,0.9 0 1,0 0.01,0ZM670.5,583.3a0.7,0.6 0 1,0 0.01,0ZM719.6,519.6a0.9,0.8 0 1,0 0.01,0ZM645.4,596.1a1.4,1.1 0 1,0 0.01,0ZM739.2,472.6a0.9,0.7 0 1,0 0.01,0ZM738.2,471.9a1.2,1 0 1,0 0.01,0ZM691.6,565.4a1,0.8 0 1,0 0.01,0ZM740.7,454.9a1.2,0.9 0 1,0 0.01,0ZM690.2,567.9a1.2,1 0 1,0 0.01,0ZM697.7,558.3a1,0.8 0 1,0 0.01,0ZM721.3,514.8a1.3,1.1 0 1,0 0.01,0ZM726.1,505.1a1.1,0.9 0 1,0 0.01,0ZM713.7,527.7a0.9,0.7 0 1,0 0.01,0ZM740.6,467.3a0.8,0.7 0 1,0 0.01,0ZM732.9,492a1.4,1.1 0 1,0 0.01,0ZM704.2,552.4a1.2,1 0 1,0 0.01,0ZM645.1,597.9a1,0.8 0 1,0 0.01,0ZM738.8,474.5a1.1,0.9 0 1,0 0.01,0ZM652.9,593.4a0.9,0.7 0 1,0 0.01,0ZM677.2,576.9a1,0.8 0 1,0 0.01,0ZM740.6,458.7a1.3,1 0 1,0 0.01,0ZM737.3,467.9a0.7,0.6 0 1,0 0.01,0ZM681.6,576.2a1.5,1.2 0 1,0 0.01,0ZM657.8,592.3a0.8,0.7 0 1,0 0.01,0ZM650.1,594.2a1.2,1 0 1,0 0.01,0ZM733.5,493.4a1.1,0.9 0 1,0 0.01,0ZM688.8,570.1a0.7,0.6 0 1,0 0.01,0ZM641.7,596.7a1.4,1.2 0 1,0 0.01,0ZM709.1,544.4a1.2,0.9 0 1,0 0.01,0ZM742,455.7a1.4,1.1 0 1,0 0.01,0ZM714.9,531.1a0.8,0.6 0 1,0 0.01,0ZM657.8,590.3a0.8,0.7 0 1,0 0.01,0ZM707.6,550.7a1.1,0.9 0 1,0 0.01,0ZM715.5,529.2a0.6,0.5 0 1,0 0.01,0ZM689.2,566.6a1.1,0.9 0 1,0 0.01,0ZM718.9,516a1.3,1.1 0 1,0 0.01,0ZM737.5,471.1a1.1,0.9 0 1,0 0.01,0ZM650.9,593a0.7,0.6 0 1,0 0.01,0ZM685.3,571.8a1.2,1 0 1,0 0.01,0ZM696.3,560.9a1.5,1.2 0 1,0 0.01,0ZM739.2,474.3a1.1,0.9 0 1,0 0.01,0ZM680.8,575.6a1.4,1.1 0 1,0 0.01,0ZM683.7,574a1.5,1.2 0 1,0 0.01,0ZM672.1,585a1.5,1.2 0 1,0 0.01,0ZM688.4,567.9a1,0.8 0 1,0 0.01,0ZM738.2,480.1a0.6,0.5 0 1,0 0.01,0ZM739.4,464.9a1.3,1.1 0 1,0 0.01,0ZM676.4,577.5a0.8,0.6 0 1,0 0.01,0ZM683.2,575.4a1.3,1.1 0 1,0 0.01,0ZM708.7,545.3a0.7,0.6 0 1,0 0.01,0ZM702.9,556.3a1.4,1.1 0 1,0 0.01,0ZM687.2,567.6a1.2,0.9 0 1,0 0.01,0ZM722.6,515a0.6,0.5 0 1,0 0.01,0ZM727.6,499a0.9,0.7 0 1,0 0.01,0ZM712.5,538a1,0.8 0 1,0 0.01,0ZM677.7,578.2a0.8,0.7 0 1,0 0.01,0ZM728.3,504.6a0.6,0.5 0 1,0 0.01,0ZM663,589a0.7,0.6 0 1,0 0.01,0ZM726.7,505.2a0.8,0.6 0 1,0 0.01,0ZM727,505.3a1.4,1.1 0 1,0 0.01,0ZM750.1,437a0.9,0.7 0 1,0 0.01,0ZM744.5,433.3a1.4,1.1 0 1,0 0.01,0ZM747.3,435.3a0.7,0.5 0 1,0 0.01,0ZM742.3,431.9a0.9,0.8 0 1,0 0.01,0ZM748.1,445.3a1.3,1 0 1,0 0.01,0ZM745.1,433.4a1.3,1.1 0 1,0 0.01,0ZM745.3,433.5a1.4,1.1 0 1,0 0.01,0ZM749.9,438.3a1.3,1 0 1,0 0.01,0ZM747.5,457.9a1.3,1.1 0 1,0 0.01,0ZM747.9,437.1a1.1,0.9 0 1,0 0.01,0ZM746.2,456.1a0.8,0.6 0 1,0 0.01,0ZM746,433.9a1.5,1.2 0 1,0 0.01,0ZM746.1,447.1a1.5,1.2 0 1,0 0.01,0ZM748.3,437a1,0.8 0 1,0 0.01,0ZM748.8,442.1a1.1,0.9 0 1,0 0.01,0ZM745.6,434.3a0.8,0.6 0 1,0 0.01,0ZM750.2,442.2a1,0.8 0 1,0 0.01,0ZM745.6,434.2a1.3,1.1 0 1,0 0.01,0ZM749.6,446.7a1.2,1 0 1,0 0.01,0ZM746.5,456.7a0.8,0.6 0 1,0 0.01,0ZM747.5,457.6a0.8,0.7 0 1,0 0.01,0ZM749.5,436.5a1.3,1.1 0 1,0 0.01,0ZM715.9,282.5a1.1,0.9 0 1,0 0.01,0ZM723.3,279.3a1,0.8 0 1,0 0.01,0ZM703.4,289.9a1,0.8 0 1,0 0.01,0ZM714.9,285a1.4,1.1 0 1,0 0.01,0ZM706.9,289.6a1.2,1 0 1,0 0.01,0ZM716.9,282.2a0.8,0.6 0 1,0 0.01,0ZM708.9,288.5a1.2,0.9 0 1,0 0.01,0ZM713.3,285.9a0.6,0.5 0 1,0 0.01,0ZM630.9,605.3a1,0.8 0 1,0 0.01,0ZM632.1,605.8a0.6,0.5 0 1,0 0.01,0ZM637.2,604.2a1.1,0.9 0 1,0 0.01,0ZM642,599.4a1.5,1.2 0 1,0 0.01,0ZM639.5,599.7a1.1,0.9 0 1,0 0.01,0ZM629.1,606.9a0.9,0.8 0 1,0 0.01,0ZM632.8,605.5a1.1,0.9 0 1,0 0.01,0ZM641.5,599.3a1.1,0.9 0 1,0 0.01,0Z" fill="#858c94"/>
<g fill="none" stroke-linejoin="round">
<path d="M51.2,231.2 53.4,229.3 55.6,227.5 56.3,224.5 58.8,222.5 61.8,221.7 64.1,221 66.8,220.2 69.9,219.4 72.5,218.8 75.4,217.8 77.8,218.2 80.6,218.4 83.8,218.4 86.2,217.5 86.9,221 88.8,223.8 92.3,223 95.8,223.5 98.8,222.5 100.5,220 102.3,217.9 105,216.2 108.3,214.8 111.8,214.8 115,214.5 118.3,213.7 121.8,212.2 125,212.5 128.3,212.1 131,212 133.6,210.1 136.9,211.3 140,210 143,209.8 145,208.4 147.5,207.3 149.9,207.7 152.5,206.2 153.1,203.5 155.5,201.7 156.2,198.6 157.5,196.2 159.5,194.3 162.9,193.8 165,192.5 164.8,189.6 165.1,186.7 166.1,183.7 165.4,180.5 166.2,177.7 166.2,175 166.4,172.3 165.6,169.5 164.7,166.9 164.8,164.4 164.9,161.4 163.8,158.8 166.6,158.6 169.2,157.7 172.6,158.2 175,157 178,156.6 181.4,156.5 184.5,156.4 187.5,156.2 190.4,157.9 193.5,158.4 196.2,160 196.3,157.2 196.2,154.2 196.2,151.2 197.3,149 198.5,146.4 200.5,144.8 201.2,142.1 202.9,140.2 203.8,137.5 206.2,135.6 208.1,132.9 209.1,130 211.2,127.5 214.3,129.3 216.7,131.3 220,132.5 223,133 226,133.6 228.4,133.9 231.8,133.9 234.6,134.6 237.5,135 238.9,131.9 240.1,128.9 241.5,126.4 243.8,123.8 244.6,121.3 245.5,118.4 246.3,116.2 247.5,113.8 251,111.9 254.5,111.2 258.8,110 260.9,107 263.8,105.5 266.2,107.8 268.8,110 270.3,112.6 272.2,114.6 274.8,116.3 276.2,118.8 278.3,121 281,121.4 283.2,123 285,125 287.9,126.9 290.1,128.8 292.5,131.2 295.1,133 296.5,135.9 298.8,137.5 300,140.6 300,144 300.5,146.9 301.2,150 303.4,152.2 305,155 306.2,157.5 306.1,160.9 304.1,163.9 303.8,167.5 302.6,170.5 301.6,172.6 300,175 302.4,177.8 305,180 307.9,180.6 309.9,182.4 312.5,183.7 315,185 318.3,185.9 321.7,186.6 325,187.5 327.3,188.7 329.8,189.8 332.5,190.6 335,191.2 337,193.7 339.5,195.7 342.5,197.5 344,200.2 346.5,201.8 348.8,203.8 352.1,204.6 355,205 355.9,208.3 356.7,211.7 357.5,215 358.7,218.2 361.2,221.2 361.8,224.4 363.7,227.2 363.8,230 366.7,231.7 370,232.5 373.1,233.5 376.7,233.8 380,233.8 383.3,233.8 385.9,234.7 388.7,235.2 391.8,235.3 395,236.2 397.6,237.9 400,239 403.2,238 406.5,238.7 409.8,238 412.8,237.9 416.4,237.5 419.6,238 422.3,239 425.1,238.2 427.8,239 431,239.9 434.3,240.5 437,242.8 439.2,245.4 442.9,247.1 445.8,249.5 448.9,249.8 451.5,251 454,252.8 456.5,254 458.9,255 462,255.2 464.5,254.5 467.4,254.7 470.3,254.4 473.5,257.7 478.4,259.3 482.1,258.5 485,256 488.1,253.8 491.5,252.8 494.5,250.9 498,249.5 501.1,247.4 504.6,246.2 508.1,245.6 511,243.8 514,243.4 516.6,243.5 519.3,243 521.8,242.3 524.4,242.3 527.5,242.2 530.4,241.3 533.1,241.1 535.6,240.5 540,239.7 544,237.3 546.2,235 548.1,233 551,231.5 553.4,228.3 555.7,225.7 558.1,223.6 560.8,222.3 563.8,221 566,218.6 568.5,217.5 567.3,213 565.6,210.2 562.7,208.2 562.3,205.1 561.5,202.4 562.8,199.1 563.8,195.5 566.7,194.1 569.7,192.5 572.7,192.8 575.5,195 579.3,195.9 582.4,197.2 585.8,196.2 589.4,196 592.7,193.5 595.2,190.8 596.7,188.5 598.7,186.2 599.5,183.4 600,180 601.9,178.3 604.7,177.4 607.8,176.8 610,175 611.9,172.9 615.3,171 617,169 620,167.5 622.1,165.6 624.6,164.5 627.6,164.4 630,162.5 632.4,160.6 634.6,159.1 637.9,158.5 640,156.2 642.9,155 646.7,154.5 650,153.8 652.7,153.3 654.9,151.8 657.1,150.4 660,150 660.4,147.5 661.2,144.7 662.5,142.5 659.5,141.1 657.4,138.8 655,137.5 652.3,136.1 649.8,135.7 647.3,135 645,133.8 641.9,133.8 638.4,133.4 635,133.8 632.4,134.9 630,135.8 627.5,137.5 624.2,136.4 620.6,137.1 617.5,136.2 613.6,136.3 610,137.5 608.5,133.9 606.2,131.2 606.3,128.1 608.9,125.8 608.6,122.6 610,120 610.3,117.5 612.3,114.9 612.3,112.6 613.5,110.2 613.5,107.6 615,105 618.3,104.5 622,104.6 625,103.8 627.8,103.3 630.1,102.1 632.5,101.7 635,100 637.4,98 639,95.7 641.6,94.6 643.8,92.5 643.7,89 645.5,86.1 645,82.5 645.9,79.3 647,76.3 646.6,73.5 648.4,70.8 648.8,67.5 649.3,64.5 650.4,61.2 649.9,58 651.2,55 649.9,51.7 648.8,48.4 648.8,45 650.7,42.7 653.2,41.3 654.7,38.6 656.2,36.2 659.1,35.8 661.9,34.5 664.2,32.7 667.5,32.5 670.2,31.8 672.7,30.2 674.9,30.2 677.5,28.8 681.6,28.6 685,27.5 688.5,28.4 691.5,28.5 695,28.8 698,30.5 701.6,30.2 705,31.2 707.4,32.4 710,34.3 712.5,35 714.3,37.2 716.3,39.4 717.5,41.9 720,43.8 721.9,46.1 723.5,48.2 724.6,50.3 725.8,53.2 727.5,55 729.1,57.5 729.9,60.2 732.1,62.4 733.9,64.7 735,67.5 736.6,69.9 738.7,72.7 740.1,75.2 742.5,77.5 745,79.5 747.3,81.5 750,82.5 753.5,82.3 756.4,82.3 760,82.5 763.1,81.8 766.4,82.8 770,82.5 772.5,84.8 775.1,86.8 777.7,88 780,90 781.9,92 783.5,95 785,97.5 786.4,99.6 788.6,101.1 790.4,103.3 792.5,105 796.5,105.3 800,105 802.8,102.9 805.5,101.4 808.8,100 811,97.9 812.9,95.5 815.7,93.7 817.5,91.2 819.7,89.3 822.2,87.5 824.9,85.1 827.5,83.8 829.6,82.6 832.8,82.7 835,81.2 833.8,83.9 833.6,87 834,89.5 833.8,92.5 834.6,95 835.9,97.6 836.2,100 835,102.3 834.3,105.3 832.2,107.4 831.2,110 831.2,113.4 831.6,116.8 832.5,120 832.1,123.7 831.2,126.9 830,130 828.7,133.3 828.6,136 827.7,139.6 827.5,142.5 824.2,142.2 821.5,143.7 818.2,143.6 815.3,144.5 812.5,145 810.9,147.1 810.8,150.6 808.4,152.3 807.5,155 806.3,157.9 806.2,161.6 805,165 805.8,167.8 808,170.1 808.2,172.4 810,175 811.4,177.5 813.4,180.3 815,182.5 814.6,185 813.4,187.3 812.5,190 810.1,192 807.5,194.5 805.1,196 803.4,197.8 801.2,200 799.7,202.4 798.7,205 797.5,207.5 795.1,210.3 792.5,212.5 790.1,213.6 787.6,213.8 785,215 783.1,217.9 781.2,220 782.4,223.1 782.5,226.2 778.7,225.8 775,225 771.3,226.1 767.5,226.2 766.2,228.6 763.9,230.3 762.5,232.5 761.2,235.6 759.9,238.4 757.5,241.2 756.3,243.7 754.6,245.7 752.5,247.5 751,249.6 749.7,251.9 747.5,253.8 744.4,255.7 742.5,258.8 741.5,261.3 739.5,263.6 737.5,265 735.2,265.6 732.2,266.7 730,267.5 731.6,267.3 728,270.2 725.8,273.7 722.3,277.2 720,278.7 717.7,280.7 714.7,281.6 713,284.2 710.3,285.8 708.4,288.3 706.2,290 703.7,291.2 699.7,292.3 701.4,289.4 704.9,287.7 706,284.2 703,281.9 701.4,278.4 703.7,274.9 707.2,271.4 708.6,269.3 710,266.7 710.9,264.1 711.3,261 709.4,258.5 708.4,256.3 706.3,254.5 703.7,252.8 700.6,252.7 697.9,252.8 696.1,254.7 693.3,256.3 692,259.2 689.8,262 688.8,264.5 687.4,266.7 685.2,269.4 682.8,271.4 680.6,273.2 678.3,274.7 677,277.2 675.5,279.8 673.9,281.8 672.3,284.2 670,288.8 667.5,289.7 665,291.5 661.9,293.6 658.6,294.8 656.3,297.9 655.4,301.3 656.3,303.6 657,306.3 659.1,308.4 662,310.4 664.5,312.7 666.8,314.5 668.4,315.3 671.7,318.6 674.2,320.6 675,323.5 678.3,324.3 681.5,325 684.6,323.1 688,322 689.3,319.5 691.5,318.2 693,316 696.3,314.2 699.5,313 702.2,313.6 704.7,313.1 707.6,313.7 710.2,313.8 713.3,314.5 715.8,314.5 718.3,314.6 721.3,313.7 724,314.5 727.3,317.8 725.1,319.8 724,322.7 721.7,324.9 719,326 716.5,327.3 714.2,328.4 710.5,329.6 707.6,331.7 704.7,333 702.7,335 700.8,337.6 699.5,340.7 696.9,342.7 695.4,345.6 692.9,348.5 691.3,352 688,355.4 686.4,360.3 684.8,365.2 686.8,367.3 688,370 690.4,371.7 692.6,373 694.6,375 696.9,376.9 700,376.9 702.7,379 703.9,381.6 705.5,383.5 706,386.4 707.4,389.1 710,391.3 710.9,394.6 711.5,397.9 712.9,401.2 714.2,404 717.5,406.2 719.5,408.3 722,410 725,411.2 727.4,413 729.1,415.7 731.2,417.5 733.4,419.5 733.4,422.7 735,425 735.5,427.6 736.3,430.2 737.5,432.5 735.5,433.8 733,436 731.2,437.5 729.1,438.6 727,440.6 725,442.5 722.5,446.2 726.5,446 730,446.2 734,446.6 737.5,447.5 739.6,449.7 741.2,452.5 740.4,455.2 739.6,457.5 738.8,460 737.9,462.7 737.3,465.2 736.2,467.5 737,471 737.5,475 736.8,477.4 735.3,480.5 733.8,482.5 733.5,485.2 731.6,487.4 731.2,490 730.8,493 728.8,495 727.5,497.5 726.2,499.9 725.9,503.1 723.8,505 722.7,507.6 721.7,510 720,512.5 718.2,515.8 716.2,518.8 714.7,521.7 712.5,524.5 715,527.5 714.5,530.5 712,532.3 711.2,535 710,537.2 709,540.1 707.5,542.5 705.3,545.5 703.8,548.8 702,550.7 700.7,553.1 698.8,555 696,557.1 693.8,560 691.9,561.9 689.6,562.9 687.5,565 686,567 684.7,569.4 682.5,571.2 680.6,573 678.6,574.7 676.2,576.2 674.7,579.1 671.6,580.3 670,582.5 667,584.6 663.8,586.2 661.6,588.2 658.9,588.7 656.2,590 653.6,590.3 651.4,592.1 648.8,592.5 645,593.8 642.2,594 640,595.4 637.3,596.6 635.6,598.6 633.5,601.4 630.7,603.5 628.7,605.6 625.8,606.8 621,605 619.3,602.1 617.6,598.6 614.4,602 612.7,606.8 610.6,609.2 607.8,611.7 604.3,612.9 601.3,614 598.4,614 595.7,615.7 593,616.6 590.4,617.9 588,618.7 585,619 582.1,620 579.2,619.8 576.8,621.5 574.8,623.1 572,624.8 571.2,628.2 570.3,631.3 571.7,634.7 573.5,637.8 573.1,640.9 572,644 568.6,644 566.2,641.9 563.7,641 561.7,638.1 560.5,634.6 561.2,631.3 562,628 561.8,625.3 560.5,623 557.4,622 554,621.5 550.5,622 547.4,622.3 544.7,620.9 542,620.4 539.2,620 536.1,620.6 532.7,621.5 530.1,621.6 527.5,620 523.4,620.1 520,618.8 517.5,618 514.8,617 512.5,616.2 510.2,613.7 507.5,611.2 507.2,608.8 505.4,606.3 505,603.8 502.4,601.2 500,598.4 497.1,598.1 494,596.8 491.8,594.8 489,593.5 484.2,591.9 481,593.5 479.3,596 476.7,596.8 474.4,598.4 469.5,600 467.3,602.3 464.6,603.3 459.7,601.7 457.2,603.1 454.8,604 452.4,602.9 449.9,601.7 445,600.9 442.4,602.6 440,603.3 435.2,602.5 432.5,603.5 430.3,605 427.8,606.3 425.4,607.4 424,610 423.7,613 423,616.6 423,619.7 424.8,622.6 425.4,626.2 422.7,627.2 420.5,628.7 415.6,627 412.3,624.6 407.4,626.2 404.4,624.5 400.8,624.6 397.6,622.8 395,621.3 392.9,619 391,616.4 387.3,614.8 384.5,613 384.1,610.5 382,608.2 384.6,605.9 386,603.3 385.9,599.7 387,596.8 384.8,595.5 382.9,593.5 379.9,592.7 378,590.3 377.8,587 376.3,583.7 375.8,580.9 374.1,578.5 373,576.4 369.6,575.3 366.5,574 363.2,574.9 360,574.7 359.1,571.3 357,568 357.2,564.4 356.5,561 358,558.9 360,556.8 362.5,552.7 364.8,550.4 365,547.5 367.4,545.3 368.6,542.5 370.6,540.3 373,538 374.3,535.5 375.5,532.2 377,530 377.8,526.8 378.2,523.4 378.5,520 377.3,517.4 376.1,515.1 375,513 372.5,508.8 371,506 369.4,503.6 367.5,501.2 365.1,499.2 362.2,497.3 360,495 356.7,495.5 353.4,496.6 350,497.5 347.1,497.5 343.6,496.6 340.4,496.8 337.5,496.2 334.6,496.4 332.5,497.3 330,499.3 327.5,499.5 324.9,501 322.3,502.5 320,503.8 317.4,504.4 315.1,505.3 312.7,507.3 310,507.5 307.7,508.9 305,509.9 302.3,510.8 300,512.5 296.4,513.1 293,514.1 290,515 286.6,515.3 283.5,514.3 280,514.5 277.2,512.3 273.8,511.2 274,508.3 273.4,505.5 272.5,502.5 270.2,500.6 267.5,498.8 266,496.4 264.4,494.8 262.5,492.5 260.5,489.8 257.7,488.7 255,486.2 252.5,485.1 250.1,484.4 247.8,483.2 245,482.5 242.5,483.8 239.7,485.2 237.5,486.2 235.2,488.2 233.1,490.6 230,492.5 229.2,495 227.3,497.6 226.2,500 224.9,497.4 223.8,495 222.4,492.3 221.5,490.3 221.2,487.5 218.4,485.9 215.4,486.1 212.5,485 209.2,485.8 206.1,486.1 202.5,486.2 200.1,485.4 197.6,484.1 195,484 192.5,482.5 189.5,481.8 187.8,479.3 184.5,478.4 182.5,476.2 181.3,473.7 179.3,471.9 176.4,471.1 175,468.8 172.3,467.5 169.9,465.7 167.5,463.8 164.7,462 162.6,460.4 160.1,458.2 157.5,456.2 155.8,453.1 153.3,450.7 152.5,447.5 149.9,447.3 147.3,446.2 145,445 143,442.8 140.5,440.6 139.3,437.6 137.5,435 135.4,433.9 133.7,431 132.3,428.8 130,427.5 127.6,425.9 125.9,424.3 124.8,421.6 122.5,420 120.6,422.7 117.7,424 115,426.2 112.5,422.5 110.8,419.8 108.9,417.3 106.2,415 103.8,413.7 103,410.5 100.4,409.3 98.8,407.5 97.2,405.1 95.9,402.9 95.3,400.2 93.8,397.5 91.1,396.2 88.6,394.7 86.2,392.5 86,389.3 85.1,385.7 85,382.5 84.1,379.9 85.6,376.8 84.8,374 85,371.2 88.1,370.6 90.8,369.6 93.8,370 94.7,366.6 95.2,363.3 96.2,360 96.3,356.7 96.8,353.5 96.2,350 98.4,348.4 100,346 101.2,343.8 100.3,340.4 100,337.5 98,334.7 95,333.1 93.8,330 93.1,326.8 93.7,323.1 92.5,320 91,317.7 88.8,316.3 87.1,314 85,312.5 82.2,310.5 79.2,308.7 76.2,307.5 74.4,305.2 72.5,302.6 70.1,300 68.8,297.5 68,295.2 67.3,292.7 65.9,290 65,287.5 63.7,284.7 62.2,281.9 61.2,278.8 58.9,277.3 56.1,275.9 53.8,275 56.7,274.3 59.9,273.9 62.5,272.5 62.7,269.5 63.4,266.3 63.7,263.1 65,260 64.2,257.2 62.2,254.3 61.2,251.2 58.7,249.1 56.3,247.7 53.8,245.6 51.2,243.8 53.2,241.3 55,238.8 53.9,235.9 51.9,234.1ZM747.5,535 752.5,535 754.3,537.5 756.2,540 756.2,543.3 755.8,546.4 755,550 754.5,552.9 754.7,556 754.5,559.7 753.8,562.5 753.3,565.9 753.8,568.7 752.9,571.8 752.5,575 751.1,577.4 750.4,580 749.9,582.5 748.8,585 747.7,588.2 747,591.5 746.2,595 743.8,595 742.9,592.2 741.2,590 738.8,587.7 736.2,585 734.6,582.7 732.5,580.4 731.2,577.5 730.3,573.9 730.4,570.8 729.5,567.5 730.6,564.4 731.3,560.8 732,557.5 733.6,555.1 734,552.7 735.6,550.3 736.2,547.5 737.6,545 739.1,542 741.2,540 742.8,538.2 745,536.3ZM542.5,662.5 544.1,659.8 545.8,657.7 547.5,655 549.9,654.1 552.3,652.5 555.1,651.6 557.5,650 560.4,648.8 564,648.8 566.9,648.5 570,647.5 573.3,647.6 576.6,648.3 580,648.8 580.7,652.3 581.2,656.2 579.5,659.2 578.1,661.8 577.5,665 575.6,667.2 573.8,669.2 573.1,672.1 571.2,673.8 568.9,675.3 566.5,676.6 564.9,678.4 562.5,680 559.2,679.9 555.6,680 552.5,680 550,678 547.3,676.4 545,675 543.8,671.4 541.2,668.8 542.3,665.5Z" stroke="#d4d6d8" stroke-width="2.4"/>
<path d="M51.2,231.2 53.4,229.3 55.6,227.5 56.3,224.5 58.8,222.5 61.8,221.7 64.1,221 66.8,220.2 69.9,219.4 72.5,218.8 75.4,217.8 77.8,218.2 80.6,218.4 83.8,218.4 86.2,217.5 86.9,221 88.8,223.8 92.3,223 95.8,223.5 98.8,222.5 100.5,220 102.3,217.9 105,216.2 108.3,214.8 111.8,214.8 115,214.5 118.3,213.7 121.8,212.2 125,212.5 128.3,212.1 131,212 133.6,210.1 136.9,211.3 140,210 143,209.8 145,208.4 147.5,207.3 149.9,207.7 152.5,206.2 153.1,203.5 155.5,201.7 156.2,198.6 157.5,196.2 159.5,194.3 162.9,193.8 165,192.5 164.8,189.6 165.1,186.7 166.1,183.7 165.4,180.5 166.2,177.7 166.2,175 166.4,172.3 165.6,169.5 164.7,166.9 164.8,164.4 164.9,161.4 163.8,158.8 166.6,158.6 169.2,157.7 172.6,158.2 175,157 178,156.6 181.4,156.5 184.5,156.4 187.5,156.2 190.4,157.9 193.5,158.4 196.2,160 196.3,157.2 196.2,154.2 196.2,151.2 197.3,149 198.5,146.4 200.5,144.8 201.2,142.1 202.9,140.2 203.8,137.5 206.2,135.6 208.1,132.9 209.1,130 211.2,127.5 214.3,129.3 216.7,131.3 220,132.5 223,133 226,133.6 228.4,133.9 231.8,133.9 234.6,134.6 237.5,135 238.9,131.9 240.1,128.9 241.5,126.4 243.8,123.8 244.6,121.3 245.5,118.4 246.3,116.2 247.5,113.8 251,111.9 254.5,111.2 258.8,110 260.9,107 263.8,105.5 266.2,107.8 268.8,110 270.3,112.6 272.2,114.6 274.8,116.3 276.2,118.8 278.3,121 281,121.4 283.2,123 285,125 287.9,126.9 290.1,128.8 292.5,131.2 295.1,133 296.5,135.9 298.8,137.5 300,140.6 300,144 300.5,146.9 301.2,150 303.4,152.2 305,155 306.2,157.5 306.1,160.9 304.1,163.9 303.8,167.5 302.6,170.5 301.6,172.6 300,175 302.4,177.8 305,180 307.9,180.6 309.9,182.4 312.5,183.7 315,185 318.3,185.9 321.7,186.6 325,187.5 327.3,188.7 329.8,189.8 332.5,190.6 335,191.2 337,193.7 339.5,195.7 342.5,197.5 344,200.2 346.5,201.8 348.8,203.8 352.1,204.6 355,205 355.9,208.3 356.7,211.7 357.5,215 358.7,218.2 361.2,221.2 361.8,224.4 363.7,227.2 363.8,230 366.7,231.7 370,232.5 373.1,233.5 376.7,233.8 380,233.8 383.3,233.8 385.9,234.7 388.7,235.2 391.8,235.3 395,236.2 397.6,237.9 400,239 403.2,238 406.5,238.7 409.8,238 412.8,237.9 416.4,237.5 419.6,238 422.3,239 425.1,238.2 427.8,239 431,239.9 434.3,240.5 437,242.8 439.2,245.4 442.9,247.1 445.8,249.5 448.9,249.8 451.5,251 454,252.8 456.5,254 458.9,255 462,255.2 464.5,254.5 467.4,254.7 470.3,254.4 473.5,257.7 478.4,259.3 482.1,258.5 485,256 488.1,253.8 491.5,252.8 494.5,250.9 498,249.5 501.1,247.4 504.6,246.2 508.1,245.6 511,243.8 514,243.4 516.6,243.5 519.3,243 521.8,242.3 524.4,242.3 527.5,242.2 530.4,241.3 533.1,241.1 535.6,240.5 540,239.7 544,237.3 546.2,235 548.1,233 551,231.5 553.4,228.3 555.7,225.7 558.1,223.6 560.8,222.3 563.8,221 566,218.6 568.5,217.5 567.3,213 565.6,210.2 562.7,208.2 562.3,205.1 561.5,202.4 562.8,199.1 563.8,195.5 566.7,194.1 569.7,192.5 572.7,192.8 575.5,195 579.3,195.9 582.4,197.2 585.8,196.2 589.4,196 592.7,193.5 595.2,190.8 596.7,188.5 598.7,186.2 599.5,183.4 600,180 601.9,178.3 604.7,177.4 607.8,176.8 610,175 611.9,172.9 615.3,171 617,169 620,167.5 622.1,165.6 624.6,164.5 627.6,164.4 630,162.5 632.4,160.6 634.6,159.1 637.9,158.5 640,156.2 642.9,155 646.7,154.5 650,153.8 652.7,153.3 654.9,151.8 657.1,150.4 660,150 660.4,147.5 661.2,144.7 662.5,142.5 659.5,141.1 657.4,138.8 655,137.5 652.3,136.1 649.8,135.7 647.3,135 645,133.8 641.9,133.8 638.4,133.4 635,133.8 632.4,134.9 630,135.8 627.5,137.5 624.2,136.4 620.6,137.1 617.5,136.2 613.6,136.3 610,137.5 608.5,133.9 606.2,131.2 606.3,128.1 608.9,125.8 608.6,122.6 610,120 610.3,117.5 612.3,114.9 612.3,112.6 613.5,110.2 613.5,107.6 615,105 618.3,104.5 622,104.6 625,103.8 627.8,103.3 630.1,102.1 632.5,101.7 635,100 637.4,98 639,95.7 641.6,94.6 643.8,92.5 643.7,89 645.5,86.1 645,82.5 645.9,79.3 647,76.3 646.6,73.5 648.4,70.8 648.8,67.5 649.3,64.5 650.4,61.2 649.9,58 651.2,55 649.9,51.7 648.8,48.4 648.8,45 650.7,42.7 653.2,41.3 654.7,38.6 656.2,36.2 659.1,35.8 661.9,34.5 664.2,32.7 667.5,32.5 670.2,31.8 672.7,30.2 674.9,30.2 677.5,28.8 681.6,28.6 685,27.5 688.5,28.4 691.5,28.5 695,28.8 698,30.5 701.6,30.2 705,31.2 707.4,32.4 710,34.3 712.5,35 714.3,37.2 716.3,39.4 717.5,41.9 720,43.8 721.9,46.1 723.5,48.2 724.6,50.3 725.8,53.2 727.5,55 729.1,57.5 729.9,60.2 732.1,62.4 733.9,64.7 735,67.5 736.6,69.9 738.7,72.7 740.1,75.2 742.5,77.5 745,79.5 747.3,81.5 750,82.5 753.5,82.3 756.4,82.3 760,82.5 763.1,81.8 766.4,82.8 770,82.5 772.5,84.8 775.1,86.8 777.7,88 780,90 781.9,92 783.5,95 785,97.5 786.4,99.6 788.6,101.1 790.4,103.3 792.5,105 796.5,105.3 800,105 802.8,102.9 805.5,101.4 808.8,100 811,97.9 812.9,95.5 815.7,93.7 817.5,91.2 819.7,89.3 822.2,87.5 824.9,85.1 827.5,83.8 829.6,82.6 832.8,82.7 835,81.2 833.8,83.9 833.6,87 834,89.5 833.8,92.5 834.6,95 835.9,97.6 836.2,100 835,102.3 834.3,105.3 832.2,107.4 831.2,110 831.2,113.4 831.6,116.8 832.5,120 832.1,123.7 831.2,126.9 830,130 828.7,133.3 828.6,136 827.7,139.6 827.5,142.5 824.2,142.2 821.5,143.7 818.2,143.6 815.3,144.5 812.5,145 810.9,147.1 810.8,150.6 808.4,152.3 807.5,155 806.3,157.9 806.2,161.6 805,165 805.8,167.8 808,170.1 808.2,172.4 810,175 811.4,177.5 813.4,180.3 815,182.5 814.6,185 813.4,187.3 812.5,190 810.1,192 807.5,194.5 805.1,196 803.4,197.8 801.2,200 799.7,202.4 798.7,205 797.5,207.5 795.1,210.3 792.5,212.5 790.1,213.6 787.6,213.8 785,215 783.1,217.9 781.2,220 782.4,223.1 782.5,226.2 778.7,225.8 775,225 771.3,226.1 767.5,226.2 766.2,228.6 763.9,230.3 762.5,232.5 761.2,235.6 759.9,238.4 757.5,241.2 756.3,243.7 754.6,245.7 752.5,247.5 751,249.6 749.7,251.9 747.5,253.8 744.4,255.7 742.5,258.8 741.5,261.3 739.5,263.6 737.5,265 735.2,265.6 732.2,266.7 730,267.5 731.6,267.3 728,270.2 725.8,273.7 722.3,277.2 720,278.7 717.7,280.7 714.7,281.6 713,284.2 710.3,285.8 708.4,288.3 706.2,290 703.7,291.2 699.7,292.3 701.4,289.4 704.9,287.7 706,284.2 703,281.9 701.4,278.4 703.7,274.9 707.2,271.4 708.6,269.3 710,266.7 710.9,264.1 711.3,261 709.4,258.5 708.4,256.3 706.3,254.5 703.7,252.8 700.6,252.7 697.9,252.8 696.1,254.7 693.3,256.3 692,259.2 689.8,262 688.8,264.5 687.4,266.7 685.2,269.4 682.8,271.4 680.6,273.2 678.3,274.7 677,277.2 675.5,279.8 673.9,281.8 672.3,284.2 670,288.8 667.5,289.7 665,291.5 661.9,293.6 658.6,294.8 656.3,297.9 655.4,301.3 656.3,303.6 657,306.3 659.1,308.4 662,310.4 664.5,312.7 666.8,314.5 668.4,315.3 671.7,318.6 674.2,320.6 675,323.5 678.3,324.3 681.5,325 684.6,323.1 688,322 689.3,319.5 691.5,318.2 693,316 696.3,314.2 699.5,313 702.2,313.6 704.7,313.1 707.6,313.7 710.2,313.8 713.3,314.5 715.8,314.5 718.3,314.6 721.3,313.7 724,314.5 727.3,317.8 725.1,319.8 724,322.7 721.7,324.9 719,326 716.5,327.3 714.2,328.4 710.5,329.6 707.6,331.7 704.7,333 702.7,335 700.8,337.6 699.5,340.7 696.9,342.7 695.4,345.6 692.9,348.5 691.3,352 688,355.4 686.4,360.3 684.8,365.2 686.8,367.3 688,370 690.4,371.7 692.6,373 694.6,375 696.9,376.9 700,376.9 702.7,379 703.9,381.6 705.5,383.5 706,386.4 707.4,389.1 710,391.3 710.9,394.6 711.5,397.9 712.9,401.2 714.2,404 717.5,406.2 719.5,408.3 722,410 725,411.2 727.4,413 729.1,415.7 731.2,417.5 733.4,419.5 733.4,422.7 735,425 735.5,427.6 736.3,430.2 737.5,432.5 735.5,433.8 733,436 731.2,437.5 729.1,438.6 727,440.6 725,442.5 722.5,446.2 726.5,446 730,446.2 734,446.6 737.5,447.5 739.6,449.7 741.2,452.5 740.4,455.2 739.6,457.5 738.8,460 737.9,462.7 737.3,465.2 736.2,467.5 737,471 737.5,475 736.8,477.4 735.3,480.5 733.8,482.5 733.5,485.2 731.6,487.4 731.2,490 730.8,493 728.8,495 727.5,497.5 726.2,499.9 725.9,503.1 723.8,505 722.7,507.6 721.7,510 720,512.5 718.2,515.8 716.2,518.8 714.7,521.7 712.5,524.5 715,527.5 714.5,530.5 712,532.3 711.2,535 710,537.2 709,540.1 707.5,542.5 705.3,545.5 703.8,548.8 702,550.7 700.7,553.1 698.8,555 696,557.1 693.8,560 691.9,561.9 689.6,562.9 687.5,565 686,567 684.7,569.4 682.5,571.2 680.6,573 678.6,574.7 676.2,576.2 674.7,579.1 671.6,580.3 670,582.5 667,584.6 663.8,586.2 661.6,588.2 658.9,588.7 656.2,590 653.6,590.3 651.4,592.1 648.8,592.5 645,593.8 642.2,594 640,595.4 637.3,596.6 635.6,598.6 633.5,601.4 630.7,603.5 628.7,605.6 625.8,606.8 621,605 619.3,602.1 617.6,598.6 614.4,602 612.7,606.8 610.6,609.2 607.8,611.7 604.3,612.9 601.3,614 598.4,614 595.7,615.7 593,616.6 590.4,617.9 588,618.7 585,619 582.1,620 579.2,619.8 576.8,621.5 574.8,623.1 572,624.8 571.2,628.2 570.3,631.3 571.7,634.7 573.5,637.8 573.1,640.9 572,644 568.6,644 566.2,641.9 563.7,641 561.7,638.1 560.5,634.6 561.2,631.3 562,628 561.8,625.3 560.5,623 557.4,622 554,621.5 550.5,622 547.4,622.3 544.7,620.9 542,620.4 539.2,620 536.1,620.6 532.7,621.5 530.1,621.6 527.5,620 523.4,620.1 520,618.8 517.5,618 514.8,617 512.5,616.2 510.2,613.7 507.5,611.2 507.2,608.8 505.4,606.3 505,603.8 502.4,601.2 500,598.4 497.1,598.1 494,596.8 491.8,594.8 489,593.5 484.2,591.9 481,593.5 479.3,596 476.7,596.8 474.4,598.4 469.5,600 467.3,602.3 464.6,603.3 459.7,601.7 457.2,603.1 454.8,604 452.4,602.9 449.9,601.7 445,600.9 442.4,602.6 440,603.3 435.2,602.5 432.5,603.5 430.3,605 427.8,606.3 425.4,607.4 424,610 423.7,613 423,616.6 423,619.7 424.8,622.6 425.4,626.2 422.7,627.2 420.5,628.7 415.6,627 412.3,624.6 407.4,626.2 404.4,624.5 400.8,624.6 397.6,622.8 395,621.3 392.9,619 391,616.4 387.3,614.8 384.5,613 384.1,610.5 382,608.2 384.6,605.9 386,603.3 385.9,599.7 387,596.8 384.8,595.5 382.9,593.5 379.9,592.7 378,590.3 377.8,587 376.3,583.7 375.8,580.9 374.1,578.5 373,576.4 369.6,575.3 366.5,574 363.2,574.9 360,574.7 359.1,571.3 357,568 357.2,564.4 356.5,561 358,558.9 360,556.8 362.5,552.7 364.8,550.4 365,547.5 367.4,545.3 368.6,542.5 370.6,540.3 373,538 374.3,535.5 375.5,532.2 377,530 377.8,526.8 378.2,523.4 378.5,520 377.3,517.4 376.1,515.1 375,513 372.5,508.8 371,506 369.4,503.6 367.5,501.2 365.1,499.2 362.2,497.3 360,495 356.7,495.5 353.4,496.6 350,497.5 347.1,497.5 343.6,496.6 340.4,496.8 337.5,496.2 334.6,496.4 332.5,497.3 330,499.3 327.5,499.5 324.9,501 322.3,502.5 320,503.8 317.4,504.4 315.1,505.3 312.7,507.3 310,507.5 307.7,508.9 305,509.9 302.3,510.8 300,512.5 296.4,513.1 293,514.1 290,515 286.6,515.3 283.5,514.3 280,514.5 277.2,512.3 273.8,511.2 274,508.3 273.4,505.5 272.5,502.5 270.2,500.6 267.5,498.8 266,496.4 264.4,494.8 262.5,492.5 260.5,489.8 257.7,488.7 255,486.2 252.5,485.1 250.1,484.4 247.8,483.2 245,482.5 242.5,483.8 239.7,485.2 237.5,486.2 235.2,488.2 233.1,490.6 230,492.5 229.2,495 227.3,497.6 226.2,500 224.9,497.4 223.8,495 222.4,492.3 221.5,490.3 221.2,487.5 218.4,485.9 215.4,486.1 212.5,485 209.2,485.8 206.1,486.1 202.5,486.2 200.1,485.4 197.6,484.1 195,484 192.5,482.5 189.5,481.8 187.8,479.3 184.5,478.4 182.5,476.2 181.3,473.7 179.3,471.9 176.4,471.1 175,468.8 172.3,467.5 169.9,465.7 167.5,463.8 164.7,462 162.6,460.4 160.1,458.2 157.5,456.2 155.8,453.1 153.3,450.7 152.5,447.5 149.9,447.3 147.3,446.2 145,445 143,442.8 140.5,440.6 139.3,437.6 137.5,435 135.4,433.9 133.7,431 132.3,428.8 130,427.5 127.6,425.9 125.9,424.3 124.8,421.6 122.5,420 120.6,422.7 117.7,424 115,426.2 112.5,422.5 110.8,419.8 108.9,417.3 106.2,415 103.8,413.7 103,410.5 100.4,409.3 98.8,407.5 97.2,405.1 95.9,402.9 95.3,400.2 93.8,397.5 91.1,396.2 88.6,394.7 86.2,392.5 86,389.3 85.1,385.7 85,382.5 84.1,379.9 85.6,376.8 84.8,374 85,371.2 88.1,370.6 90.8,369.6 93.8,370 94.7,366.6 95.2,363.3 96.2,360 96.3,356.7 96.8,353.5 96.2,350 98.4,348.4 100,346 101.2,343.8 100.3,340.4 100,337.5 98,334.7 95,333.1 93.8,330 93.1,326.8 93.7,323.1 92.5,320 91,317.7 88.8,316.3 87.1,314 85,312.5 82.2,310.5 79.2,308.7 76.2,307.5 74.4,305.2 72.5,302.6 70.1,300 68.8,297.5 68,295.2 67.3,292.7 65.9,290 65,287.5 63.7,284.7 62.2,281.9 61.2,278.8 58.9,277.3 56.1,275.9 53.8,275 56.7,274.3 59.9,273.9 62.5,272.5 62.7,269.5 63.4,266.3 63.7,263.1 65,260 64.2,257.2 62.2,254.3 61.2,251.2 58.7,249.1 56.3,247.7 53.8,245.6 51.2,243.8 53.2,241.3 55,238.8 53.9,235.9 51.9,234.1ZM747.5,535 752.5,535 754.3,537.5 756.2,540 756.2,543.3 755.8,546.4 755,550 754.5,552.9 754.7,556 754.5,559.7 753.8,562.5 753.3,565.9 753.8,568.7 752.9,571.8 752.5,575 751.1,577.4 750.4,580 749.9,582.5 748.8,585 747.7,588.2 747,591.5 746.2,595 743.8,595 742.9,592.2 741.2,590 738.8,587.7 736.2,585 734.6,582.7 732.5,580.4 731.2,577.5 730.3,573.9 730.4,570.8 729.5,567.5 730.6,564.4 731.3,560.8 732,557.5 733.6,555.1 734,552.7 735.6,550.3 736.2,547.5 737.6,545 739.1,542 741.2,540 742.8,538.2 745,536.3ZM542.5,662.5 544.1,659.8 545.8,657.7 547.5,655 549.9,654.1 552.3,652.5 555.1,651.6 557.5,650 560.4,648.8 564,648.8 566.9,648.5 570,647.5 573.3,647.6 576.6,648.3 580,648.8 580.7,652.3 581.2,656.2 579.5,659.2 578.1,661.8 577.5,665 575.6,667.2 573.8,669.2 573.1,672.1 571.2,673.8 568.9,675.3 566.5,676.6 564.9,678.4 562.5,680 559.2,679.9 555.6,680 552.5,680 550,678 547.3,676.4 545,675 543.8,671.4 541.2,668.8 542.3,665.5Z" stroke="#7f7f7f" stroke-width="1.2"/>
</g>
</g>
<g fill="#111"><circle cx="254.5" cy="198.8" r="1.25"/><circle cx="568.2" cy="269.2" r="1.25"/><circle cx="633.8" cy="281.2" r="1.25"/><circle cx="646" cy="294" r="1.25"/><circle cx="722" cy="233" r="1.25"/><circle cx="738.5" cy="191" r="1.25"/><circle cx="743.8" cy="156" r="1.25"/><circle cx="496.2" cy="317.4" r="1.25"/><circle cx="583.5" cy="323.7" r="1.25"/><circle cx="611.2" cy="317.5" r="1.25"/><circle cx="649" cy="339" r="1.25"/><circle cx="433.3" cy="350" r="1.25"/><circle cx="461" cy="359.9" r="1.25"/><circle cx="536.2" cy="392" r="1.25"/><circle cx="603.8" cy="379.5" r="1.25"/><circle cx="263.8" cy="462.5" r="1.25"/><circle cx="464.3" cy="459" r="1.25"/><circle cx="501.2" cy="479.5" r="1.25"/><circle cx="505.8" cy="533.8" r="1.25"/><circle cx="441.2" cy="559.7" r="1.25"/><circle cx="621.2" cy="453.8" r="1.25"/><circle cx="663.8" cy="425.8" r="1.25"/><circle cx="685.5" cy="418.8" r="1.25"/><circle cx="728.2" cy="428" r="1.25"/><circle cx="711.2" cy="448.2" r="1.25"/><circle cx="649.2" cy="486.2" r="1.25"/><circle cx="605" cy="499.5" r="1.25"/><circle cx="709" cy="525.5" r="1.25"/><circle cx="747.5" cy="538.2" r="1.25"/><circle cx="534.3" cy="600" r="1.25"/><circle cx="616.3" cy="590" r="1.25"/><circle cx="633" cy="603.5" r="1.25"/><circle cx="622.5" cy="606" r="1.25"/><circle cx="570.8" cy="648.8" r="1.25"/></g>
<g font-family="'Liberation Sans','Noto Sans CJK SC',sans-serif" font-size="10.6" fill="#1c1c1c">
<text x="233" y="211.2">乌鲁木齐</text>
<text x="546" y="280.5">呼和浩特</text>
<text x="622.5" y="291.8">北京</text>
<text x="634.8" y="304.8">天津</text>
<text x="710" y="243.5">沈阳</text>
<text x="726.8" y="201.2">长春</text>
<text x="731.5" y="165.2">哈尔滨</text>
<text x="485.2" y="326.9">银川</text>
<text x="569.2" y="333.5">太原</text>
<text x="594" y="328.5">石家庄</text>
<text x="638.8" y="349.8">济南</text>
<text x="422" y="360">西宁</text>
<text x="449.6" y="371.4">兰州</text>
<text x="525.5" y="403">西安</text>
<text x="593" y="390.2">郑州</text>
<text x="253" y="473">拉萨</text>
<text x="453.5" y="470.2">成都</text>
<text x="490.4" y="490.2">重庆</text>
<text x="495.2" y="544">贵阳</text>
<text x="431" y="571.2">昆明</text>
<text x="609.3" y="464.2">武汉</text>
<text x="649.3" y="435.5">合肥</text>
<text x="674" y="429.7">南京</text>
<text x="718.2" y="439.1">上海</text>
<text x="699.7" y="458.8">杭州</text>
<text x="638.3" y="496.7">南昌</text>
<text x="593.3" y="510.8">长沙</text>
<text x="696.4" y="536.6">福州</text>
<text x="737.5" y="550">台北</text>
<text x="523" y="611">南宁</text>
<text x="604.3" y="599.3">广州</text>
<text x="634.2" y="601.2">香港</text>
<text x="612.7" y="615.9">澳门</text>
<text x="559.3" y="659.1">海口</text>
</g>
<text x="149" y="382" font-family="'Liberation Serif','Noto Serif CJK SC',serif" font-size="17.5" font-weight="bold" fill="#151530">图例</text>
<text x="146" y="515.5" font-family="'Liberation Serif','Noto Serif CJK SC',serif" font-size="17.5" font-weight="bold" fill="#111">图例</text>
<rect x="146" y="519.9" width="36.8" height="18.1" fill="#4a007d"/>
<rect x="146" y="540" width="36.8" height="18.3" fill="#05237d"/>
<rect x="146" y="559.4" width="36.8" height="17.7" fill="#0a4bab"/>
<rect x="146" y="579.9" width="36.8" height="18.1" fill="#416cd0"/>
<rect x="146" y="599.8" width="36.8" height="17.9" fill="#10a0e6"/>
<rect x="146" y="622" width="36.8" height="17.8" fill="#0ffde5"/>
<rect x="146" y="644" width="36.8" height="17.3" fill="#78dcfa"/>
<rect x="146" y="663.6" width="36.8" height="18.6" fill="#b4e8f6"/>
<rect x="261.3" y="525.5" width="37.2" height="18.8" fill="#fffcc8"/>
<rect x="261.3" y="545.4" width="37.2" height="18.4" fill="#ffd591"/>
<rect x="261.3" y="565.5" width="37.2" height="18.1" fill="#ffac19"/>
<rect x="261.3" y="585.5" width="37.2" height="18.1" fill="#ff8a0f"/>
<rect x="261.3" y="605.6" width="37.2" height="18.4" fill="#e8550c"/>
<rect x="261.3" y="626.4" width="37.2" height="18.6" fill="#aa3c0a"/>
<path d="M261.7,662H297" stroke="#98822a" stroke-width="2" fill="none"/>
<path d="M261.7,679.5H297" stroke="#6a0a08" stroke-width="2.2" fill="none"/>
<g font-family="'Liberation Sans','Noto Sans CJK SC',sans-serif" font-size="12.5" fill="#111">
<text x="185.4" y="533.8">&lt; -28℃</text>
<text x="185.4" y="554">-28～-24℃</text>
<text x="185.4" y="573.3">-24～-20℃</text>
<text x="185.4" y="594.5">-20～-16℃</text>
<text x="185.4" y="614">-16～-12℃</text>
<text x="185.4" y="636">-12～-10℃</text>
<text x="185.4" y="658">-10～-8℃</text>
<text x="185.4" y="678.3">-8～-4℃</text>
<text x="300.4" y="539.8">-4～0℃</text>
<text x="300.3" y="559.6">0～4℃</text>
<text x="300.3" y="579.9">4～8℃</text>
<text x="300.3" y="599.8">8～12℃</text>
<text x="300.3" y="619.6">12～16℃</text>
<text x="302" y="640.4">&gt; 16℃</text>
<text x="301.6" y="666.3">-10℃</text>
<text x="301.5" y="684.1">0℃</text>
</g>
<text x="688" y="667.6" font-family="'Liberation Sans','Noto Sans CJK SC',sans-serif" font-size="14.5" fill="#222">1月24日06时发布</text>
<rect x="22" y="528" width="116" height="145.8" fill="#fff" stroke="#6e6e6e" stroke-width="1.3"/>
<g font-family="'Liberation Serif','Noto Serif CJK SC',serif" font-size="12" fill="#222">
<text x="90" y="561.5">南</text>
<text x="80" y="592">海</text>
<text x="65.8" y="617.5">诸</text>
<text x="49.3" y="634.5">岛</text>
</g>
<path d="M44.5,580 L48,587.5M55,609.5 L52.5,617M37,648.8 L38,655.5M71.2,672 L79.5,669.5M101.2,643 L106.2,636.2M123.2,612 L125.8,604.5M121.8,574.5 L123.2,582M123,557.5 L125.8,550M132.5,533.8 L137,528" stroke="#5a5a5a" stroke-width="2.1" fill="none"/>
<ellipse cx="47" cy="556" rx="8.6" ry="6.6" fill="none" stroke="#8aa0b4" stroke-width="0.8" transform="rotate(-25 47 556)"/>
<path d="M23.8,535 30,538 37.5,538 46.2,537 50,540 53.8,535.5 61.2,534.5 70,531.2 75,532 80.5,529.5" stroke="#8aa0b4" stroke-width="0.8" fill="none"/>
<path d="M63.4,577.4h1M64.7,577.8h1M67.3,573.5h1M61.1,579.7h1M63.6,574.9h1M71,576.8h1M87,579.9h1M85.8,578.6h1M85.8,581.5h1M100.7,619.3h1M105.5,607.2h1M108.3,616.6h1M93.6,606.6h1M111.7,614.5h1M107,621.8h1M106.9,622.6h1M96.6,620.4h1M98.2,622.8h1M112.1,607.8h1M88.4,609.9h1M114.9,613.9h1M104.1,611.4h1M100.2,612.9h1M95.2,616.5h1M102.7,622.3h1M105.8,622.7h1M111.4,623.8h1M105.5,608.9h1M111.5,623.4h1M113,616.2h1M106.8,609.8h1M90,636.2h1M76.8,628h1M90.5,642.8h1M72.1,639.8h1M79.9,629.4h1M77.1,639.3h1M90.9,627.7h1M84.7,627.7h1M87.2,632.3h1M91.1,642.7h1M82.1,643h1M77.4,628.2h1M84.4,627.5h1M74.7,633.5h1M56.1,639.9h1M50.4,644.2h1M53.1,644.8h1M59,641.3h1M54.6,642.1h1M75.6,656.6h1M75.2,656.7h1M76.8,656h1M112.9,581.4h1M99.5,539.6h1" stroke="#9aa" stroke-width="0.9" fill="none"/>
<defs><linearGradient id="lg" x1="0" y1="25" x2="0" y2="76" gradientUnits="userSpaceOnUse"><stop offset="0" stop-color="#7fd0e0"/><stop offset="0.35" stop-color="#3f8fd0"/><stop offset="1" stop-color="#1a2f98"/></linearGradient></defs>
<g fill="url(#lg)">
<path fill-rule="evenodd" d="M45.1,25.1a25.5,25.5 0 1,0 0.01,0ZM44.9,27.6a22.6,22.4 0 1,1 -0.01,0Z"/>
<path d="M37.1,49.6C37.6,48.7 40.9,48 43.1,47.3C45.3,46.6 47.9,45.6 50.1,45.3C52.3,45 54.6,44.9 56.1,45.6C57.7,46.2 59,47.6 59.3,49.1C59.7,50.5 59.4,52.8 58.3,54.3C57.3,55.8 54.8,57 53.1,58.3C51.4,59.6 49.4,60.8 48.1,62.1C46.8,63.4 45.6,64.9 45.3,66.1C45,67.4 45.2,68.9 46.3,69.6C47.4,70.3 49.8,70.7 52.1,70.3C54.4,70 57.8,68.7 60.1,67.3C62.5,66 64.6,63.9 66.1,62.3C67.7,60.7 68.9,57.1 69.3,57.6C69.8,58.1 69.7,62.8 68.6,65.1C67.6,67.5 65.4,70 63.1,71.6C60.9,73.3 57.8,74.5 55.1,75.2C52.4,75.8 49.8,75.9 47.1,75.7C44.4,75.4 41.2,74.8 39.1,73.6C36.9,72.5 34.9,70.5 34.3,68.6C33.6,66.7 34.1,64.2 35.1,62.3C36,60.4 38.1,58.8 40.1,57.3C42.1,55.8 45.1,54.5 47.1,53.3C49.1,52.1 51.5,51.1 52.1,50.3C52.7,49.5 52.1,48.8 50.9,48.7C49.7,48.6 46.9,49.1 45.1,49.8C43.3,50.5 41.4,52.8 40.1,52.8C38.7,52.8 36.6,50.5 37.1,49.6Z"/>
<path d="M25,45.3C26.5,44.7 31.2,44.4 35.1,44.1C38.9,43.7 44.5,43.2 48.1,43.3C51.7,43.3 56.3,43.8 56.6,44.4C57,45 52.9,46.4 50.1,46.9C47.3,47.4 42.9,47 40.1,47.3C37.3,47.6 35,48.4 33.3,48.7C31.6,49 31,49.5 29.8,49.3C28.7,49.1 27.3,48.2 26.5,47.6C25.7,46.9 23.6,45.9 25,45.3Z"/>
<path d="M35.6,38.9C36.6,38.2 40.7,37.6 43.1,37.7C45.5,37.8 49.8,38.9 49.9,39.5C50,40.1 45.8,40.9 43.6,41.3C41.4,41.6 38.2,42.1 36.9,41.7C35.5,41.3 34.5,39.5 35.6,38.9Z"/>
</g>
<g fill="none" stroke="#3c8fd2" stroke-width="1.3" stroke-linecap="round">
<path d="M48.6,30.8 Q51.9,34 48.3,37.7"/>
<path d="M53.3,32.6 Q55.3,36.7 51.3,40.1"/>
<path d="M57.1,36.7 Q58.3,41.1 55.3,45.1"/>
</g>
<text x="329" y="71.5" font-family="'Liberation Serif','Noto Serif CJK SC',serif" font-size="27" font-weight="bold" fill="#111">全国最低气温预报图</text>
<text x="344.3" y="108" font-family="'Liberation Serif','Noto Serif CJK SC',serif" font-size="20.3" fill="#111">1月24日08时—26日20时</text>
<text x="396.5" y="139.5" font-family="'Liberation Sans','Noto Sans CJK SC',sans-serif" font-size="22" font-weight="500" fill="#111">中央气象台</text>
</svg></body></html>
